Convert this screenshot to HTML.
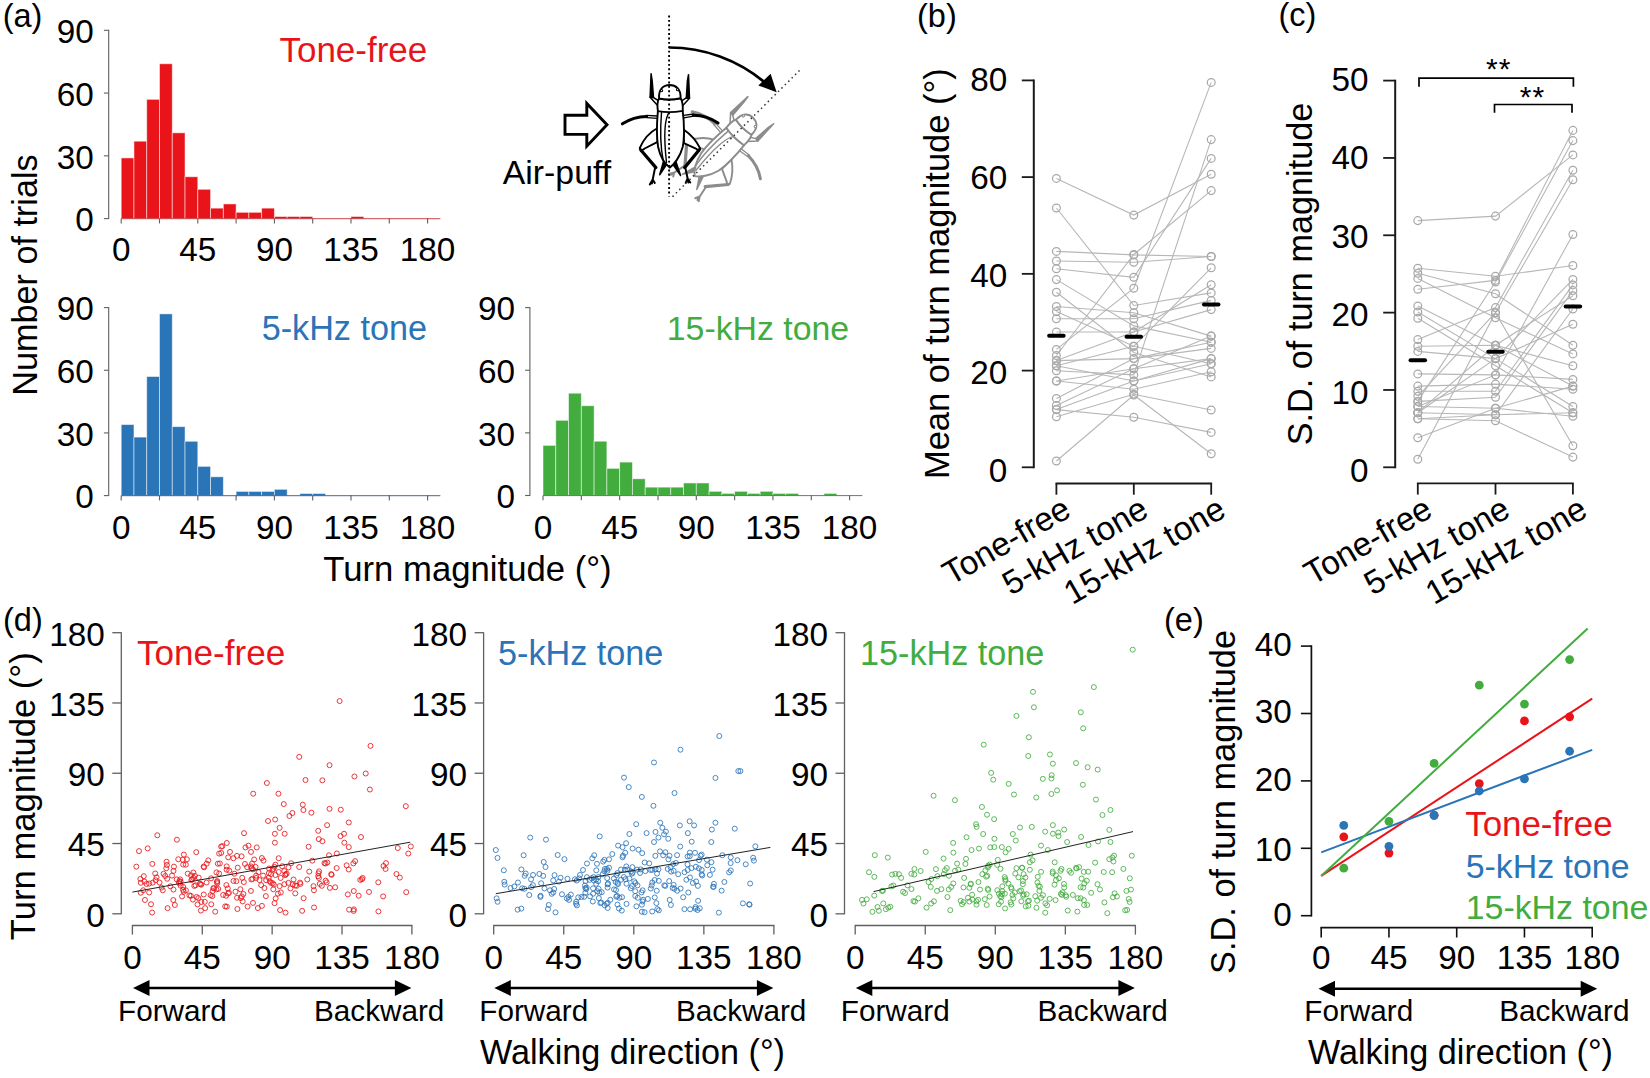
<!DOCTYPE html>
<html lang="en"><head><meta charset="utf-8"><title>Figure</title>
<style>html,body{margin:0;padding:0;background:#fff}svg{display:block}text{font-family:"Liberation Sans", sans-serif}</style></head>
<body>
<svg width="1650" height="1078" viewBox="0 0 1650 1078">
<rect width="1650" height="1078" fill="#fff"/>
<text x="2.7" y="26.5" font-size="32.5" text-anchor="start" fill="#000">(a)</text>
<line x1="108.7" y1="29.8" x2="108.7" y2="219.1" stroke="#606060" stroke-width="1.1"/>
<line x1="103.9" y1="218.6" x2="108.7" y2="218.6" stroke="#606060" stroke-width="1.1"/>
<text x="93.9" y="231.4" font-size="33.3" text-anchor="end" fill="#000">0</text>
<line x1="103.9" y1="155.83" x2="108.7" y2="155.83" stroke="#606060" stroke-width="1.1"/>
<text x="93.9" y="168.63" font-size="33.3" text-anchor="end" fill="#000">30</text>
<line x1="103.9" y1="93.07" x2="108.7" y2="93.07" stroke="#606060" stroke-width="1.1"/>
<text x="93.9" y="105.87" font-size="33.3" text-anchor="end" fill="#000">60</text>
<line x1="103.9" y1="30.3" x2="108.7" y2="30.3" stroke="#606060" stroke-width="1.1"/>
<text x="93.9" y="43.1" font-size="33.3" text-anchor="end" fill="#000">90</text>
<line x1="121.2" y1="218.6" x2="121.2" y2="223.4" stroke="#606060" stroke-width="1.1"/>
<line x1="159.5" y1="218.6" x2="159.5" y2="223.4" stroke="#606060" stroke-width="1.1"/>
<line x1="197.8" y1="218.6" x2="197.8" y2="223.4" stroke="#606060" stroke-width="1.1"/>
<line x1="236.1" y1="218.6" x2="236.1" y2="223.4" stroke="#606060" stroke-width="1.1"/>
<line x1="274.4" y1="218.6" x2="274.4" y2="223.4" stroke="#606060" stroke-width="1.1"/>
<line x1="312.7" y1="218.6" x2="312.7" y2="223.4" stroke="#606060" stroke-width="1.1"/>
<line x1="351" y1="218.6" x2="351" y2="223.4" stroke="#606060" stroke-width="1.1"/>
<line x1="389.3" y1="218.6" x2="389.3" y2="223.4" stroke="#606060" stroke-width="1.1"/>
<line x1="427.6" y1="218.6" x2="427.6" y2="223.4" stroke="#606060" stroke-width="1.1"/>
<text x="121.2" y="261.3" font-size="33.3" text-anchor="middle" fill="#000">0</text>
<text x="197.8" y="261.3" font-size="33.3" text-anchor="middle" fill="#000">45</text>
<text x="274.4" y="261.3" font-size="33.3" text-anchor="middle" fill="#000">90</text>
<text x="351" y="261.3" font-size="33.3" text-anchor="middle" fill="#000">135</text>
<text x="427.6" y="261.3" font-size="33.3" text-anchor="middle" fill="#000">180</text>
<rect x="121.2" y="157.93" width="12.77" height="60.67" fill="#e8141a" stroke="#fff" stroke-opacity="0.55" stroke-width="0.9"/>
<rect x="133.97" y="141.19" width="12.77" height="77.41" fill="#e8141a" stroke="#fff" stroke-opacity="0.55" stroke-width="0.9"/>
<rect x="146.73" y="99.34" width="12.77" height="119.26" fill="#e8141a" stroke="#fff" stroke-opacity="0.55" stroke-width="0.9"/>
<rect x="159.5" y="63.78" width="12.77" height="154.82" fill="#e8141a" stroke="#fff" stroke-opacity="0.55" stroke-width="0.9"/>
<rect x="172.27" y="132.82" width="12.77" height="85.78" fill="#e8141a" stroke="#fff" stroke-opacity="0.55" stroke-width="0.9"/>
<rect x="185.03" y="176.76" width="12.77" height="41.84" fill="#e8141a" stroke="#fff" stroke-opacity="0.55" stroke-width="0.9"/>
<rect x="197.8" y="189.31" width="12.77" height="29.29" fill="#e8141a" stroke="#fff" stroke-opacity="0.55" stroke-width="0.9"/>
<rect x="210.57" y="208.14" width="12.77" height="10.46" fill="#e8141a" stroke="#fff" stroke-opacity="0.55" stroke-width="0.9"/>
<rect x="223.33" y="203.95" width="12.77" height="14.65" fill="#e8141a" stroke="#fff" stroke-opacity="0.55" stroke-width="0.9"/>
<rect x="236.1" y="212.32" width="12.77" height="6.28" fill="#e8141a" stroke="#fff" stroke-opacity="0.55" stroke-width="0.9"/>
<rect x="248.87" y="212.32" width="12.77" height="6.28" fill="#e8141a" stroke="#fff" stroke-opacity="0.55" stroke-width="0.9"/>
<rect x="261.63" y="208.14" width="12.77" height="10.46" fill="#e8141a" stroke="#fff" stroke-opacity="0.55" stroke-width="0.9"/>
<rect x="274.4" y="216.51" width="12.77" height="2.09" fill="#e8141a" stroke="#fff" stroke-opacity="0.55" stroke-width="0.9"/>
<rect x="287.17" y="216.51" width="12.77" height="2.09" fill="#e8141a" stroke="#fff" stroke-opacity="0.55" stroke-width="0.9"/>
<rect x="299.93" y="216.51" width="12.77" height="2.09" fill="#e8141a" stroke="#fff" stroke-opacity="0.55" stroke-width="0.9"/>
<rect x="351" y="216.51" width="12.77" height="2.09" fill="#e8141a" stroke="#fff" stroke-opacity="0.55" stroke-width="0.9"/>
<line x1="121.2" y1="218.7" x2="440.37" y2="218.7" stroke="#b00c12" stroke-width="1" stroke-opacity="0.75"/>
<text x="427.3" y="62.1" font-size="35" text-anchor="end" fill="#e8141a">Tone-free</text>
<line x1="108.7" y1="307.1" x2="108.7" y2="496.1" stroke="#606060" stroke-width="1.1"/>
<line x1="103.9" y1="495.6" x2="108.7" y2="495.6" stroke="#606060" stroke-width="1.1"/>
<text x="93.9" y="508.4" font-size="33.3" text-anchor="end" fill="#000">0</text>
<line x1="103.9" y1="432.93" x2="108.7" y2="432.93" stroke="#606060" stroke-width="1.1"/>
<text x="93.9" y="445.73" font-size="33.3" text-anchor="end" fill="#000">30</text>
<line x1="103.9" y1="370.27" x2="108.7" y2="370.27" stroke="#606060" stroke-width="1.1"/>
<text x="93.9" y="383.07" font-size="33.3" text-anchor="end" fill="#000">60</text>
<line x1="103.9" y1="307.6" x2="108.7" y2="307.6" stroke="#606060" stroke-width="1.1"/>
<text x="93.9" y="320.4" font-size="33.3" text-anchor="end" fill="#000">90</text>
<line x1="121.2" y1="495.6" x2="121.2" y2="500.4" stroke="#606060" stroke-width="1.1"/>
<line x1="159.5" y1="495.6" x2="159.5" y2="500.4" stroke="#606060" stroke-width="1.1"/>
<line x1="197.8" y1="495.6" x2="197.8" y2="500.4" stroke="#606060" stroke-width="1.1"/>
<line x1="236.1" y1="495.6" x2="236.1" y2="500.4" stroke="#606060" stroke-width="1.1"/>
<line x1="274.4" y1="495.6" x2="274.4" y2="500.4" stroke="#606060" stroke-width="1.1"/>
<line x1="312.7" y1="495.6" x2="312.7" y2="500.4" stroke="#606060" stroke-width="1.1"/>
<line x1="351" y1="495.6" x2="351" y2="500.4" stroke="#606060" stroke-width="1.1"/>
<line x1="389.3" y1="495.6" x2="389.3" y2="500.4" stroke="#606060" stroke-width="1.1"/>
<line x1="427.6" y1="495.6" x2="427.6" y2="500.4" stroke="#606060" stroke-width="1.1"/>
<text x="121.2" y="538.5" font-size="33.3" text-anchor="middle" fill="#000">0</text>
<text x="197.8" y="538.5" font-size="33.3" text-anchor="middle" fill="#000">45</text>
<text x="274.4" y="538.5" font-size="33.3" text-anchor="middle" fill="#000">90</text>
<text x="351" y="538.5" font-size="33.3" text-anchor="middle" fill="#000">135</text>
<text x="427.6" y="538.5" font-size="33.3" text-anchor="middle" fill="#000">180</text>
<rect x="121.2" y="424.58" width="12.77" height="71.02" fill="#2a74b8" stroke="#fff" stroke-opacity="0.55" stroke-width="0.9"/>
<rect x="133.97" y="437.11" width="12.77" height="58.49" fill="#2a74b8" stroke="#fff" stroke-opacity="0.55" stroke-width="0.9"/>
<rect x="146.73" y="376.53" width="12.77" height="119.07" fill="#2a74b8" stroke="#fff" stroke-opacity="0.55" stroke-width="0.9"/>
<rect x="159.5" y="313.87" width="12.77" height="181.73" fill="#2a74b8" stroke="#fff" stroke-opacity="0.55" stroke-width="0.9"/>
<rect x="172.27" y="426.67" width="12.77" height="68.93" fill="#2a74b8" stroke="#fff" stroke-opacity="0.55" stroke-width="0.9"/>
<rect x="185.03" y="441.29" width="12.77" height="54.31" fill="#2a74b8" stroke="#fff" stroke-opacity="0.55" stroke-width="0.9"/>
<rect x="197.8" y="466.36" width="12.77" height="29.24" fill="#2a74b8" stroke="#fff" stroke-opacity="0.55" stroke-width="0.9"/>
<rect x="210.57" y="476.8" width="12.77" height="18.8" fill="#2a74b8" stroke="#fff" stroke-opacity="0.55" stroke-width="0.9"/>
<rect x="236.1" y="491.42" width="12.77" height="4.18" fill="#2a74b8" stroke="#fff" stroke-opacity="0.55" stroke-width="0.9"/>
<rect x="248.87" y="491.42" width="12.77" height="4.18" fill="#2a74b8" stroke="#fff" stroke-opacity="0.55" stroke-width="0.9"/>
<rect x="261.63" y="491.42" width="12.77" height="4.18" fill="#2a74b8" stroke="#fff" stroke-opacity="0.55" stroke-width="0.9"/>
<rect x="274.4" y="489.33" width="12.77" height="6.27" fill="#2a74b8" stroke="#fff" stroke-opacity="0.55" stroke-width="0.9"/>
<rect x="299.93" y="493.51" width="12.77" height="2.09" fill="#2a74b8" stroke="#fff" stroke-opacity="0.55" stroke-width="0.9"/>
<rect x="312.7" y="493.51" width="12.77" height="2.09" fill="#2a74b8" stroke="#fff" stroke-opacity="0.55" stroke-width="0.9"/>
<line x1="121.2" y1="495.7" x2="440.37" y2="495.7" stroke="#12345e" stroke-width="1" stroke-opacity="0.75"/>
<text x="427" y="340.4" font-size="34.2" text-anchor="end" fill="#2a74b8">5-kHz tone</text>
<line x1="529.9" y1="307.1" x2="529.9" y2="496" stroke="#606060" stroke-width="1.1"/>
<line x1="525.1" y1="495.5" x2="529.9" y2="495.5" stroke="#606060" stroke-width="1.1"/>
<text x="515.1" y="508.3" font-size="33.3" text-anchor="end" fill="#000">0</text>
<line x1="525.1" y1="432.87" x2="529.9" y2="432.87" stroke="#606060" stroke-width="1.1"/>
<text x="515.1" y="445.67" font-size="33.3" text-anchor="end" fill="#000">30</text>
<line x1="525.1" y1="370.23" x2="529.9" y2="370.23" stroke="#606060" stroke-width="1.1"/>
<text x="515.1" y="383.03" font-size="33.3" text-anchor="end" fill="#000">60</text>
<line x1="525.1" y1="307.6" x2="529.9" y2="307.6" stroke="#606060" stroke-width="1.1"/>
<text x="515.1" y="320.4" font-size="33.3" text-anchor="end" fill="#000">90</text>
<line x1="543" y1="495.5" x2="543" y2="500.3" stroke="#606060" stroke-width="1.1"/>
<line x1="581.33" y1="495.5" x2="581.33" y2="500.3" stroke="#606060" stroke-width="1.1"/>
<line x1="619.65" y1="495.5" x2="619.65" y2="500.3" stroke="#606060" stroke-width="1.1"/>
<line x1="657.98" y1="495.5" x2="657.98" y2="500.3" stroke="#606060" stroke-width="1.1"/>
<line x1="696.3" y1="495.5" x2="696.3" y2="500.3" stroke="#606060" stroke-width="1.1"/>
<line x1="734.62" y1="495.5" x2="734.62" y2="500.3" stroke="#606060" stroke-width="1.1"/>
<line x1="772.95" y1="495.5" x2="772.95" y2="500.3" stroke="#606060" stroke-width="1.1"/>
<line x1="811.28" y1="495.5" x2="811.28" y2="500.3" stroke="#606060" stroke-width="1.1"/>
<line x1="849.6" y1="495.5" x2="849.6" y2="500.3" stroke="#606060" stroke-width="1.1"/>
<text x="543" y="538.5" font-size="33.3" text-anchor="middle" fill="#000">0</text>
<text x="619.65" y="538.5" font-size="33.3" text-anchor="middle" fill="#000">45</text>
<text x="696.3" y="538.5" font-size="33.3" text-anchor="middle" fill="#000">90</text>
<text x="772.95" y="538.5" font-size="33.3" text-anchor="middle" fill="#000">135</text>
<text x="849.6" y="538.5" font-size="33.3" text-anchor="middle" fill="#000">180</text>
<rect x="543" y="445.39" width="12.78" height="50.11" fill="#42ac3e" stroke="#fff" stroke-opacity="0.55" stroke-width="0.9"/>
<rect x="555.77" y="420.34" width="12.78" height="75.16" fill="#42ac3e" stroke="#fff" stroke-opacity="0.55" stroke-width="0.9"/>
<rect x="568.55" y="393.2" width="12.78" height="102.3" fill="#42ac3e" stroke="#fff" stroke-opacity="0.55" stroke-width="0.9"/>
<rect x="581.33" y="405.73" width="12.78" height="89.77" fill="#42ac3e" stroke="#fff" stroke-opacity="0.55" stroke-width="0.9"/>
<rect x="594.1" y="441.22" width="12.78" height="54.28" fill="#42ac3e" stroke="#fff" stroke-opacity="0.55" stroke-width="0.9"/>
<rect x="606.88" y="468.36" width="12.78" height="27.14" fill="#42ac3e" stroke="#fff" stroke-opacity="0.55" stroke-width="0.9"/>
<rect x="619.65" y="462.1" width="12.78" height="33.4" fill="#42ac3e" stroke="#fff" stroke-opacity="0.55" stroke-width="0.9"/>
<rect x="632.42" y="478.8" width="12.78" height="16.7" fill="#42ac3e" stroke="#fff" stroke-opacity="0.55" stroke-width="0.9"/>
<rect x="645.2" y="487.15" width="12.78" height="8.35" fill="#42ac3e" stroke="#fff" stroke-opacity="0.55" stroke-width="0.9"/>
<rect x="657.98" y="487.15" width="12.78" height="8.35" fill="#42ac3e" stroke="#fff" stroke-opacity="0.55" stroke-width="0.9"/>
<rect x="670.75" y="487.15" width="12.78" height="8.35" fill="#42ac3e" stroke="#fff" stroke-opacity="0.55" stroke-width="0.9"/>
<rect x="683.52" y="482.97" width="12.78" height="12.53" fill="#42ac3e" stroke="#fff" stroke-opacity="0.55" stroke-width="0.9"/>
<rect x="696.3" y="482.97" width="12.78" height="12.53" fill="#42ac3e" stroke="#fff" stroke-opacity="0.55" stroke-width="0.9"/>
<rect x="709.08" y="491.32" width="12.78" height="4.18" fill="#42ac3e" stroke="#fff" stroke-opacity="0.55" stroke-width="0.9"/>
<rect x="721.85" y="493.41" width="12.78" height="2.09" fill="#42ac3e" stroke="#fff" stroke-opacity="0.55" stroke-width="0.9"/>
<rect x="734.62" y="491.32" width="12.78" height="4.18" fill="#42ac3e" stroke="#fff" stroke-opacity="0.55" stroke-width="0.9"/>
<rect x="747.4" y="493.41" width="12.78" height="2.09" fill="#42ac3e" stroke="#fff" stroke-opacity="0.55" stroke-width="0.9"/>
<rect x="760.17" y="491.32" width="12.78" height="4.18" fill="#42ac3e" stroke="#fff" stroke-opacity="0.55" stroke-width="0.9"/>
<rect x="772.95" y="493.41" width="12.78" height="2.09" fill="#42ac3e" stroke="#fff" stroke-opacity="0.55" stroke-width="0.9"/>
<rect x="785.73" y="493.41" width="12.78" height="2.09" fill="#42ac3e" stroke="#fff" stroke-opacity="0.55" stroke-width="0.9"/>
<rect x="824.05" y="493.41" width="12.78" height="2.09" fill="#42ac3e" stroke="#fff" stroke-opacity="0.55" stroke-width="0.9"/>
<line x1="543" y1="495.6" x2="862.38" y2="495.6" stroke="#22601f" stroke-width="1" stroke-opacity="0.75"/>
<text x="849.2" y="340.4" font-size="33.85" text-anchor="end" fill="#42ac3e">15-kHz tone</text>
<text x="36.6" y="275" font-size="34.2" text-anchor="middle" fill="#000" transform="rotate(-90 36.6 275)">Number of trials</text>
<text x="467.5" y="580.5" font-size="34.7" text-anchor="middle" fill="#000">Turn magnitude (°)</text>
<g transform="translate(723.5 146.5) rotate(45) translate(0 -41.25)" fill="none" stroke="#8c8c8c" stroke-width="1.9" stroke-linecap="round" stroke-linejoin="round" opacity="1">
<path d="M -11.5 43 C -19 47 -26 55 -29.4 63.2 L -28 66 L -24.4 63.5 L -11.5 56.8 Z" fill="#fff"/>
<path d="M -28.3 65 L -13.2 82.6" stroke-width="3.23"/>
<path d="M -14 82.6 L -17.2 98.5 M -16.4 94.5 L -19.3 99.5 M -16.4 94.5 L -14.3 98" stroke-width="1.99"/>
<path d="M 14.5 44.5 C 21 49 28 57 30.9 63.2 L 29.8 66 L 27.3 63.9 L 14.8 58.2 Z" fill="#fff"/>
<path d="M 30.2 64.8 L 15.5 82.6" stroke-width="3.23"/>
<path d="M 16.2 82.6 L 19.4 97.5 M 18.5 93.5 L 16.6 97.8 M 18.5 93.5 L 21.2 97.5" stroke-width="1.99"/>
<path d="M -11.5 31 L -23 30.3 M -11.5 33.4 L -22.5 32.6" stroke-width="1.33"/>
<path d="M -22.5 31.4 Q -35.5 31.5 -46.7 38.8" stroke-width="3.04"/>
<path d="M 14.5 30.4 L 24.5 29 M 14.7 32.8 L 24.5 31.2" stroke-width="1.33"/>
<path d="M 24.2 30.2 Q 38.5 30.5 48.9 38" stroke-width="3.04"/>
<path d="M -18 -11.2 L -19 12.2 L -15.6 12.6 L -16.9 -4 Z" fill="#8c8c8c" stroke-width="1.52"/>
<path d="M -19 12.2 L -11 21 L -10.8 15.5 L -15.6 12.6 Z" fill="#fff" stroke-width="1.52"/>
<path d="M 19.4 -10.3 L 20.4 13.2 L 17.2 12.9 L 18.3 -4 Z" fill="#8c8c8c" stroke-width="1.52"/>
<path d="M 20.4 13.2 L 12.8 21.5 L 12.4 15.8 L 17.2 12.9 Z" fill="#fff" stroke-width="1.52"/>
<path d="M -5.5 76 L -9.4 89.8 L -2.6 79.5 Z" fill="#8c8c8c" stroke-width="1.52"/>
<path d="M 6.6 76 L 11.5 90.5 L 4 79.5 Z" fill="#8c8c8c" stroke-width="1.52"/>
<path d="M -11.2 26 C -12.3 38 -12.3 54 -11 62 C -9 71 -4 79 0.6 82.6 C 5 79.5 11 72 13.6 62 C 15.3 54 15.3 38 13.6 26 Z" fill="#fff"/>
<path d="M -7.6 27.5 C -9 45 -8.4 63 -6 75" stroke-width="1.42"/>
<path d="M 0.3 27 C -4.4 33 -5.4 52 -2.6 77.5" stroke-width="1.42"/>
<path d="M -10.1 13.5 C -11.6 16 -11.8 22 -11.2 26.1 Q 0 28.3 13.6 25.9 C 13.9 21 13.3 16 11.5 13.2 Q 0 15.6 -10.1 13.5 Z" fill="#fff"/>
<path d="M -10.1 13.5 C -10.6 4 -5.5 0 0.4 0 C 6.5 0 11.8 3.5 11.5 13.2 Q 0 15.6 -10.1 13.5 Z" fill="#fff"/>
<circle cx="-7.6" cy="5.6" r="1.15" fill="#fff" stroke-width="1.04"/>
<circle cx="8.4" cy="4.6" r="1.15" fill="#fff" stroke-width="1.04"/>
</g>
<g transform="translate(669.1 85)" fill="none" stroke="#000" stroke-width="1.9" stroke-linecap="round" stroke-linejoin="round" opacity="1">
<path d="M -11.5 43 C -19 47 -26 55 -29.4 63.2 L -28 66 L -24.4 63.5 L -11.5 56.8 Z" fill="#fff"/>
<path d="M -28.3 65 L -13.2 82.6" stroke-width="3.23"/>
<path d="M -14 82.6 L -17.2 98.5 M -16.4 94.5 L -19.3 99.5 M -16.4 94.5 L -14.3 98" stroke-width="1.99"/>
<path d="M 14.5 44.5 C 21 49 28 57 30.9 63.2 L 29.8 66 L 27.3 63.9 L 14.8 58.2 Z" fill="#fff"/>
<path d="M 30.2 64.8 L 15.5 82.6" stroke-width="3.23"/>
<path d="M 16.2 82.6 L 19.4 97.5 M 18.5 93.5 L 16.6 97.8 M 18.5 93.5 L 21.2 97.5" stroke-width="1.99"/>
<path d="M -11.5 31 L -23 30.3 M -11.5 33.4 L -22.5 32.6" stroke-width="1.33"/>
<path d="M -22.5 31.4 Q -35.5 31.5 -46.7 38.8" stroke-width="3.04"/>
<path d="M 14.5 30.4 L 24.5 29 M 14.7 32.8 L 24.5 31.2" stroke-width="1.33"/>
<path d="M 24.2 30.2 Q 38.5 30.5 48.9 38" stroke-width="3.04"/>
<path d="M -18 -11.2 L -19 12.2 L -15.6 12.6 L -16.9 -4 Z" fill="#000" stroke-width="1.52"/>
<path d="M -19 12.2 L -11 21 L -10.8 15.5 L -15.6 12.6 Z" fill="#fff" stroke-width="1.52"/>
<path d="M 19.4 -10.3 L 20.4 13.2 L 17.2 12.9 L 18.3 -4 Z" fill="#000" stroke-width="1.52"/>
<path d="M 20.4 13.2 L 12.8 21.5 L 12.4 15.8 L 17.2 12.9 Z" fill="#fff" stroke-width="1.52"/>
<path d="M -5.5 76 L -9.4 89.8 L -2.6 79.5 Z" fill="#000" stroke-width="1.52"/>
<path d="M 6.6 76 L 11.5 90.5 L 4 79.5 Z" fill="#000" stroke-width="1.52"/>
<path d="M -11.2 26 C -12.3 38 -12.3 54 -11 62 C -9 71 -4 79 0.6 82.6 C 5 79.5 11 72 13.6 62 C 15.3 54 15.3 38 13.6 26 Z" fill="#fff"/>
<path d="M -7.6 27.5 C -9 45 -8.4 63 -6 75" stroke-width="1.42"/>
<path d="M 0.3 27 C -4.4 33 -5.4 52 -2.6 77.5" stroke-width="1.42"/>
<path d="M -10.1 13.5 C -11.6 16 -11.8 22 -11.2 26.1 Q 0 28.3 13.6 25.9 C 13.9 21 13.3 16 11.5 13.2 Q 0 15.6 -10.1 13.5 Z" fill="#fff"/>
<path d="M -10.1 13.5 C -10.6 4 -5.5 0 0.4 0 C 6.5 0 11.8 3.5 11.5 13.2 Q 0 15.6 -10.1 13.5 Z" fill="#fff"/>
<circle cx="-7.6" cy="5.6" r="1.15" fill="#fff" stroke-width="1.04"/>
<circle cx="8.4" cy="4.6" r="1.15" fill="#fff" stroke-width="1.04"/>
</g>
<line x1="669.1" y1="15.5" x2="669.1" y2="196.5" stroke="#000" stroke-width="1.9" stroke-dasharray="1.9 2.5"/>
<line x1="672.5" y1="196.7" x2="801.4" y2="68.6" stroke="#333" stroke-width="1.5" stroke-dasharray="1.5 3.3"/>
<path d="M 669.1 47.5 A 148.5 148.5 0 0 1 764.55 82.24" fill="none" stroke="#000" stroke-width="2.6"/>
<path d="M 776.64 92.15 L 758.37 85.46 L 770.6 73.66 Z" fill="#000"/>
<path d="M 565 115.3 L 586.8 115.3 L 586.8 103.5 L 607 124.8 L 586.8 146.2 L 586.8 134.4 L 565 134.4 Z" fill="#fff" stroke="#000" stroke-width="2.9" stroke-linejoin="miter"/>
<text x="502.8" y="183.8" font-size="33.8" text-anchor="start" fill="#000">Air-puff</text>
<text x="917" y="26.5" font-size="32.5" text-anchor="start" fill="#000">(b)</text>
<polyline points="1056.4,178.4 1133.8,215.1 1211.2,174.3" fill="none" stroke="#b7b7b7" stroke-width="1.1"/>
<polyline points="1056.4,208 1133.8,305.5 1211.2,292.9" fill="none" stroke="#b7b7b7" stroke-width="1.1"/>
<polyline points="1056.4,251.4 1133.8,254.9 1211.2,256.5" fill="none" stroke="#b7b7b7" stroke-width="1.1"/>
<polyline points="1056.4,261 1133.8,262.2 1211.2,256.5" fill="none" stroke="#b7b7b7" stroke-width="1.1"/>
<polyline points="1056.4,268.8 1133.8,277.3 1211.2,158.4" fill="none" stroke="#b7b7b7" stroke-width="1.1"/>
<polyline points="1056.4,279.6 1133.8,325.9 1211.2,342.2" fill="none" stroke="#b7b7b7" stroke-width="1.1"/>
<polyline points="1056.4,292.2 1133.8,352.4 1211.2,376.9" fill="none" stroke="#b7b7b7" stroke-width="1.1"/>
<polyline points="1056.4,306.5 1133.8,312.7 1211.2,336.1" fill="none" stroke="#b7b7b7" stroke-width="1.1"/>
<polyline points="1056.4,311.6 1133.8,346.3 1211.2,363.7" fill="none" stroke="#b7b7b7" stroke-width="1.1"/>
<polyline points="1056.4,318.8 1133.8,318.8 1211.2,300.4" fill="none" stroke="#b7b7b7" stroke-width="1.1"/>
<polyline points="1056.4,332 1133.8,332 1211.2,309.6" fill="none" stroke="#b7b7b7" stroke-width="1.1"/>
<polyline points="1056.4,349.4 1133.8,288.2 1211.2,82.4" fill="none" stroke="#b7b7b7" stroke-width="1.1"/>
<polyline points="1056.4,355.5 1133.8,254.5 1211.2,190.6" fill="none" stroke="#b7b7b7" stroke-width="1.1"/>
<polyline points="1056.4,360.6 1133.8,332 1211.2,284.7" fill="none" stroke="#b7b7b7" stroke-width="1.1"/>
<polyline points="1056.4,360.6 1133.8,358.6 1211.2,348.4" fill="none" stroke="#b7b7b7" stroke-width="1.1"/>
<polyline points="1056.4,365.7 1133.8,346.3 1211.2,267.8" fill="none" stroke="#b7b7b7" stroke-width="1.1"/>
<polyline points="1056.4,370.8 1133.8,374.9 1211.2,139.6" fill="none" stroke="#b7b7b7" stroke-width="1.1"/>
<polyline points="1056.4,381 1133.8,389.2 1211.2,371.8" fill="none" stroke="#b7b7b7" stroke-width="1.1"/>
<polyline points="1056.4,381 1133.8,368.8 1211.2,358.6" fill="none" stroke="#b7b7b7" stroke-width="1.1"/>
<polyline points="1056.4,398.4 1133.8,358.6 1211.2,342.2" fill="none" stroke="#b7b7b7" stroke-width="1.1"/>
<polyline points="1056.4,405.5 1133.8,368.8 1211.2,336.1" fill="none" stroke="#b7b7b7" stroke-width="1.1"/>
<polyline points="1056.4,409.6 1133.8,381 1211.2,358.6" fill="none" stroke="#b7b7b7" stroke-width="1.1"/>
<polyline points="1056.4,409.6 1133.8,417.3 1211.2,432.4" fill="none" stroke="#b7b7b7" stroke-width="1.1"/>
<polyline points="1056.4,416.7 1133.8,394.3 1211.2,410" fill="none" stroke="#b7b7b7" stroke-width="1.1"/>
<polyline points="1056.4,461 1133.8,395 1211.2,453.7" fill="none" stroke="#b7b7b7" stroke-width="1.1"/>
<polyline points="1056.4,365.7 1133.8,381 1211.2,363.7" fill="none" stroke="#b7b7b7" stroke-width="1.1"/>
<circle cx="1056.4" cy="178.4" r="3.9" fill="none" stroke="#a9a9a9" stroke-width="1.25"/>
<circle cx="1133.8" cy="215.1" r="3.9" fill="none" stroke="#a9a9a9" stroke-width="1.25"/>
<circle cx="1211.2" cy="174.3" r="3.9" fill="none" stroke="#a9a9a9" stroke-width="1.25"/>
<circle cx="1056.4" cy="208" r="3.9" fill="none" stroke="#a9a9a9" stroke-width="1.25"/>
<circle cx="1133.8" cy="305.5" r="3.9" fill="none" stroke="#a9a9a9" stroke-width="1.25"/>
<circle cx="1211.2" cy="292.9" r="3.9" fill="none" stroke="#a9a9a9" stroke-width="1.25"/>
<circle cx="1056.4" cy="251.4" r="3.9" fill="none" stroke="#a9a9a9" stroke-width="1.25"/>
<circle cx="1133.8" cy="254.9" r="3.9" fill="none" stroke="#a9a9a9" stroke-width="1.25"/>
<circle cx="1211.2" cy="256.5" r="3.9" fill="none" stroke="#a9a9a9" stroke-width="1.25"/>
<circle cx="1056.4" cy="261" r="3.9" fill="none" stroke="#a9a9a9" stroke-width="1.25"/>
<circle cx="1133.8" cy="262.2" r="3.9" fill="none" stroke="#a9a9a9" stroke-width="1.25"/>
<circle cx="1211.2" cy="256.5" r="3.9" fill="none" stroke="#a9a9a9" stroke-width="1.25"/>
<circle cx="1056.4" cy="268.8" r="3.9" fill="none" stroke="#a9a9a9" stroke-width="1.25"/>
<circle cx="1133.8" cy="277.3" r="3.9" fill="none" stroke="#a9a9a9" stroke-width="1.25"/>
<circle cx="1211.2" cy="158.4" r="3.9" fill="none" stroke="#a9a9a9" stroke-width="1.25"/>
<circle cx="1056.4" cy="279.6" r="3.9" fill="none" stroke="#a9a9a9" stroke-width="1.25"/>
<circle cx="1133.8" cy="325.9" r="3.9" fill="none" stroke="#a9a9a9" stroke-width="1.25"/>
<circle cx="1211.2" cy="342.2" r="3.9" fill="none" stroke="#a9a9a9" stroke-width="1.25"/>
<circle cx="1056.4" cy="292.2" r="3.9" fill="none" stroke="#a9a9a9" stroke-width="1.25"/>
<circle cx="1133.8" cy="352.4" r="3.9" fill="none" stroke="#a9a9a9" stroke-width="1.25"/>
<circle cx="1211.2" cy="376.9" r="3.9" fill="none" stroke="#a9a9a9" stroke-width="1.25"/>
<circle cx="1056.4" cy="306.5" r="3.9" fill="none" stroke="#a9a9a9" stroke-width="1.25"/>
<circle cx="1133.8" cy="312.7" r="3.9" fill="none" stroke="#a9a9a9" stroke-width="1.25"/>
<circle cx="1211.2" cy="336.1" r="3.9" fill="none" stroke="#a9a9a9" stroke-width="1.25"/>
<circle cx="1056.4" cy="311.6" r="3.9" fill="none" stroke="#a9a9a9" stroke-width="1.25"/>
<circle cx="1133.8" cy="346.3" r="3.9" fill="none" stroke="#a9a9a9" stroke-width="1.25"/>
<circle cx="1211.2" cy="363.7" r="3.9" fill="none" stroke="#a9a9a9" stroke-width="1.25"/>
<circle cx="1056.4" cy="318.8" r="3.9" fill="none" stroke="#a9a9a9" stroke-width="1.25"/>
<circle cx="1133.8" cy="318.8" r="3.9" fill="none" stroke="#a9a9a9" stroke-width="1.25"/>
<circle cx="1211.2" cy="300.4" r="3.9" fill="none" stroke="#a9a9a9" stroke-width="1.25"/>
<circle cx="1056.4" cy="332" r="3.9" fill="none" stroke="#a9a9a9" stroke-width="1.25"/>
<circle cx="1133.8" cy="332" r="3.9" fill="none" stroke="#a9a9a9" stroke-width="1.25"/>
<circle cx="1211.2" cy="309.6" r="3.9" fill="none" stroke="#a9a9a9" stroke-width="1.25"/>
<circle cx="1056.4" cy="349.4" r="3.9" fill="none" stroke="#a9a9a9" stroke-width="1.25"/>
<circle cx="1133.8" cy="288.2" r="3.9" fill="none" stroke="#a9a9a9" stroke-width="1.25"/>
<circle cx="1211.2" cy="82.4" r="3.9" fill="none" stroke="#a9a9a9" stroke-width="1.25"/>
<circle cx="1056.4" cy="355.5" r="3.9" fill="none" stroke="#a9a9a9" stroke-width="1.25"/>
<circle cx="1133.8" cy="254.5" r="3.9" fill="none" stroke="#a9a9a9" stroke-width="1.25"/>
<circle cx="1211.2" cy="190.6" r="3.9" fill="none" stroke="#a9a9a9" stroke-width="1.25"/>
<circle cx="1056.4" cy="360.6" r="3.9" fill="none" stroke="#a9a9a9" stroke-width="1.25"/>
<circle cx="1133.8" cy="332" r="3.9" fill="none" stroke="#a9a9a9" stroke-width="1.25"/>
<circle cx="1211.2" cy="284.7" r="3.9" fill="none" stroke="#a9a9a9" stroke-width="1.25"/>
<circle cx="1056.4" cy="360.6" r="3.9" fill="none" stroke="#a9a9a9" stroke-width="1.25"/>
<circle cx="1133.8" cy="358.6" r="3.9" fill="none" stroke="#a9a9a9" stroke-width="1.25"/>
<circle cx="1211.2" cy="348.4" r="3.9" fill="none" stroke="#a9a9a9" stroke-width="1.25"/>
<circle cx="1056.4" cy="365.7" r="3.9" fill="none" stroke="#a9a9a9" stroke-width="1.25"/>
<circle cx="1133.8" cy="346.3" r="3.9" fill="none" stroke="#a9a9a9" stroke-width="1.25"/>
<circle cx="1211.2" cy="267.8" r="3.9" fill="none" stroke="#a9a9a9" stroke-width="1.25"/>
<circle cx="1056.4" cy="370.8" r="3.9" fill="none" stroke="#a9a9a9" stroke-width="1.25"/>
<circle cx="1133.8" cy="374.9" r="3.9" fill="none" stroke="#a9a9a9" stroke-width="1.25"/>
<circle cx="1211.2" cy="139.6" r="3.9" fill="none" stroke="#a9a9a9" stroke-width="1.25"/>
<circle cx="1056.4" cy="381" r="3.9" fill="none" stroke="#a9a9a9" stroke-width="1.25"/>
<circle cx="1133.8" cy="389.2" r="3.9" fill="none" stroke="#a9a9a9" stroke-width="1.25"/>
<circle cx="1211.2" cy="371.8" r="3.9" fill="none" stroke="#a9a9a9" stroke-width="1.25"/>
<circle cx="1056.4" cy="381" r="3.9" fill="none" stroke="#a9a9a9" stroke-width="1.25"/>
<circle cx="1133.8" cy="368.8" r="3.9" fill="none" stroke="#a9a9a9" stroke-width="1.25"/>
<circle cx="1211.2" cy="358.6" r="3.9" fill="none" stroke="#a9a9a9" stroke-width="1.25"/>
<circle cx="1056.4" cy="398.4" r="3.9" fill="none" stroke="#a9a9a9" stroke-width="1.25"/>
<circle cx="1133.8" cy="358.6" r="3.9" fill="none" stroke="#a9a9a9" stroke-width="1.25"/>
<circle cx="1211.2" cy="342.2" r="3.9" fill="none" stroke="#a9a9a9" stroke-width="1.25"/>
<circle cx="1056.4" cy="405.5" r="3.9" fill="none" stroke="#a9a9a9" stroke-width="1.25"/>
<circle cx="1133.8" cy="368.8" r="3.9" fill="none" stroke="#a9a9a9" stroke-width="1.25"/>
<circle cx="1211.2" cy="336.1" r="3.9" fill="none" stroke="#a9a9a9" stroke-width="1.25"/>
<circle cx="1056.4" cy="409.6" r="3.9" fill="none" stroke="#a9a9a9" stroke-width="1.25"/>
<circle cx="1133.8" cy="381" r="3.9" fill="none" stroke="#a9a9a9" stroke-width="1.25"/>
<circle cx="1211.2" cy="358.6" r="3.9" fill="none" stroke="#a9a9a9" stroke-width="1.25"/>
<circle cx="1056.4" cy="409.6" r="3.9" fill="none" stroke="#a9a9a9" stroke-width="1.25"/>
<circle cx="1133.8" cy="417.3" r="3.9" fill="none" stroke="#a9a9a9" stroke-width="1.25"/>
<circle cx="1211.2" cy="432.4" r="3.9" fill="none" stroke="#a9a9a9" stroke-width="1.25"/>
<circle cx="1056.4" cy="416.7" r="3.9" fill="none" stroke="#a9a9a9" stroke-width="1.25"/>
<circle cx="1133.8" cy="394.3" r="3.9" fill="none" stroke="#a9a9a9" stroke-width="1.25"/>
<circle cx="1211.2" cy="410" r="3.9" fill="none" stroke="#a9a9a9" stroke-width="1.25"/>
<circle cx="1056.4" cy="461" r="3.9" fill="none" stroke="#a9a9a9" stroke-width="1.25"/>
<circle cx="1133.8" cy="395" r="3.9" fill="none" stroke="#a9a9a9" stroke-width="1.25"/>
<circle cx="1211.2" cy="453.7" r="3.9" fill="none" stroke="#a9a9a9" stroke-width="1.25"/>
<circle cx="1056.4" cy="365.7" r="3.9" fill="none" stroke="#a9a9a9" stroke-width="1.25"/>
<circle cx="1133.8" cy="381" r="3.9" fill="none" stroke="#a9a9a9" stroke-width="1.25"/>
<circle cx="1211.2" cy="363.7" r="3.9" fill="none" stroke="#a9a9a9" stroke-width="1.25"/>
<line x1="1049.1" y1="335.7" x2="1063.7" y2="335.7" stroke="#000" stroke-width="3.9" stroke-linecap="round"/>
<line x1="1126.5" y1="336.7" x2="1141.1" y2="336.7" stroke="#000" stroke-width="3.9" stroke-linecap="round"/>
<line x1="1203.9" y1="304.5" x2="1218.5" y2="304.5" stroke="#000" stroke-width="3.9" stroke-linecap="round"/>
<line x1="1033.8" y1="79.5" x2="1033.8" y2="468.2" stroke="#1a1a1a" stroke-width="2"/>
<line x1="1021.8" y1="80.4" x2="1033.8" y2="80.4" stroke="#1a1a1a" stroke-width="1.8"/>
<text x="1007.2" y="91" font-size="33.3" text-anchor="end" fill="#000">80</text>
<line x1="1021.8" y1="177.1" x2="1033.8" y2="177.1" stroke="#1a1a1a" stroke-width="1.8"/>
<text x="1007.2" y="188.76" font-size="33.3" text-anchor="end" fill="#000">60</text>
<line x1="1021.8" y1="273.85" x2="1033.8" y2="273.85" stroke="#1a1a1a" stroke-width="1.8"/>
<text x="1007.2" y="286.52" font-size="33.3" text-anchor="end" fill="#000">40</text>
<line x1="1021.8" y1="370.6" x2="1033.8" y2="370.6" stroke="#1a1a1a" stroke-width="1.8"/>
<text x="1007.2" y="384.29" font-size="33.3" text-anchor="end" fill="#000">20</text>
<line x1="1021.8" y1="467.3" x2="1033.8" y2="467.3" stroke="#1a1a1a" stroke-width="1.8"/>
<text x="1007.2" y="482.05" font-size="33.3" text-anchor="end" fill="#000">0</text>
<line x1="1055.5" y1="483.5" x2="1212.1" y2="483.5" stroke="#1a1a1a" stroke-width="1.8"/>
<line x1="1056.4" y1="483.5" x2="1056.4" y2="494.7" stroke="#1a1a1a" stroke-width="1.8"/>
<line x1="1133.8" y1="483.5" x2="1133.8" y2="494.7" stroke="#1a1a1a" stroke-width="1.8"/>
<line x1="1211.2" y1="483.5" x2="1211.2" y2="494.7" stroke="#1a1a1a" stroke-width="1.8"/>
<text x="1072.9" y="515.5" font-size="33.3" text-anchor="end" fill="#000" transform="rotate(-30 1072.9 515.5)">Tone-free</text>
<text x="1150.3" y="515.5" font-size="33.3" text-anchor="end" fill="#000" transform="rotate(-30 1150.3 515.5)">5-kHz tone</text>
<text x="1227.7" y="515.5" font-size="33.3" text-anchor="end" fill="#000" transform="rotate(-30 1227.7 515.5)">15-kHz tone</text>
<text x="949.2" y="273.6" font-size="34.52" text-anchor="middle" fill="#000" transform="rotate(-90 949.2 273.6)">Mean of turn magnitude (°)</text>
<text x="1278.5" y="26.3" font-size="32.5" text-anchor="start" fill="#000">(c)</text>
<polyline points="1417.8,220.6 1495.5,216.1 1572.9,154.9" fill="none" stroke="#b7b7b7" stroke-width="1.1"/>
<polyline points="1417.8,268.2 1495.5,276.3 1572.9,265.5" fill="none" stroke="#b7b7b7" stroke-width="1.1"/>
<polyline points="1417.8,273.3 1495.5,293.7 1572.9,345.3" fill="none" stroke="#b7b7b7" stroke-width="1.1"/>
<polyline points="1417.8,278.4 1495.5,317.8 1572.9,353.9" fill="none" stroke="#b7b7b7" stroke-width="1.1"/>
<polyline points="1417.8,289.2 1495.5,280.4 1572.9,130.4" fill="none" stroke="#b7b7b7" stroke-width="1.1"/>
<polyline points="1417.8,305.9 1495.5,345.3 1572.9,386.1" fill="none" stroke="#b7b7b7" stroke-width="1.1"/>
<polyline points="1417.8,312 1495.5,358.6 1572.9,406.5" fill="none" stroke="#b7b7b7" stroke-width="1.1"/>
<polyline points="1417.8,318.2 1495.5,365.7 1572.9,412.7" fill="none" stroke="#b7b7b7" stroke-width="1.1"/>
<polyline points="1417.8,339.6 1495.5,307.6 1572.9,170.2" fill="none" stroke="#b7b7b7" stroke-width="1.1"/>
<polyline points="1417.8,346.3 1495.5,345.3 1572.9,365.7" fill="none" stroke="#b7b7b7" stroke-width="1.1"/>
<polyline points="1417.8,351.4 1495.5,358.6 1572.9,324.3" fill="none" stroke="#b7b7b7" stroke-width="1.1"/>
<polyline points="1417.8,373.9 1495.5,374.9 1572.9,379.4" fill="none" stroke="#b7b7b7" stroke-width="1.1"/>
<polyline points="1417.8,386.1 1495.5,384.1 1572.9,389.2" fill="none" stroke="#b7b7b7" stroke-width="1.1"/>
<polyline points="1417.8,391.2 1495.5,391.2 1572.9,284.9" fill="none" stroke="#b7b7b7" stroke-width="1.1"/>
<polyline points="1417.8,396.3 1495.5,312.7 1572.9,179.8" fill="none" stroke="#b7b7b7" stroke-width="1.1"/>
<polyline points="1417.8,401.4 1495.5,397.3 1572.9,290.6" fill="none" stroke="#b7b7b7" stroke-width="1.1"/>
<polyline points="1417.8,406.5 1495.5,408.2 1572.9,416.3" fill="none" stroke="#b7b7b7" stroke-width="1.1"/>
<polyline points="1417.8,412.7 1495.5,358.6 1572.9,279.4" fill="none" stroke="#b7b7b7" stroke-width="1.1"/>
<polyline points="1417.8,412.7 1495.5,345.3 1572.9,295.7" fill="none" stroke="#b7b7b7" stroke-width="1.1"/>
<polyline points="1417.8,418.8 1495.5,414.7 1572.9,412.7" fill="none" stroke="#b7b7b7" stroke-width="1.1"/>
<polyline points="1417.8,418.8 1495.5,420.8 1572.9,457.1" fill="none" stroke="#b7b7b7" stroke-width="1.1"/>
<polyline points="1417.8,437.8 1495.5,408.2 1572.9,386.1" fill="none" stroke="#b7b7b7" stroke-width="1.1"/>
<polyline points="1417.8,459.2 1495.5,312.7 1572.9,445.7" fill="none" stroke="#b7b7b7" stroke-width="1.1"/>
<polyline points="1417.8,406.5 1495.5,374.9 1572.9,234.5" fill="none" stroke="#b7b7b7" stroke-width="1.1"/>
<polyline points="1417.8,401.4 1495.5,282 1572.9,140.6" fill="none" stroke="#b7b7b7" stroke-width="1.1"/>
<polyline points="1417.8,412.7 1495.5,414.7 1572.9,309" fill="none" stroke="#b7b7b7" stroke-width="1.1"/>
<circle cx="1417.8" cy="220.6" r="3.9" fill="none" stroke="#a9a9a9" stroke-width="1.25"/>
<circle cx="1495.5" cy="216.1" r="3.9" fill="none" stroke="#a9a9a9" stroke-width="1.25"/>
<circle cx="1572.9" cy="154.9" r="3.9" fill="none" stroke="#a9a9a9" stroke-width="1.25"/>
<circle cx="1417.8" cy="268.2" r="3.9" fill="none" stroke="#a9a9a9" stroke-width="1.25"/>
<circle cx="1495.5" cy="276.3" r="3.9" fill="none" stroke="#a9a9a9" stroke-width="1.25"/>
<circle cx="1572.9" cy="265.5" r="3.9" fill="none" stroke="#a9a9a9" stroke-width="1.25"/>
<circle cx="1417.8" cy="273.3" r="3.9" fill="none" stroke="#a9a9a9" stroke-width="1.25"/>
<circle cx="1495.5" cy="293.7" r="3.9" fill="none" stroke="#a9a9a9" stroke-width="1.25"/>
<circle cx="1572.9" cy="345.3" r="3.9" fill="none" stroke="#a9a9a9" stroke-width="1.25"/>
<circle cx="1417.8" cy="278.4" r="3.9" fill="none" stroke="#a9a9a9" stroke-width="1.25"/>
<circle cx="1495.5" cy="317.8" r="3.9" fill="none" stroke="#a9a9a9" stroke-width="1.25"/>
<circle cx="1572.9" cy="353.9" r="3.9" fill="none" stroke="#a9a9a9" stroke-width="1.25"/>
<circle cx="1417.8" cy="289.2" r="3.9" fill="none" stroke="#a9a9a9" stroke-width="1.25"/>
<circle cx="1495.5" cy="280.4" r="3.9" fill="none" stroke="#a9a9a9" stroke-width="1.25"/>
<circle cx="1572.9" cy="130.4" r="3.9" fill="none" stroke="#a9a9a9" stroke-width="1.25"/>
<circle cx="1417.8" cy="305.9" r="3.9" fill="none" stroke="#a9a9a9" stroke-width="1.25"/>
<circle cx="1495.5" cy="345.3" r="3.9" fill="none" stroke="#a9a9a9" stroke-width="1.25"/>
<circle cx="1572.9" cy="386.1" r="3.9" fill="none" stroke="#a9a9a9" stroke-width="1.25"/>
<circle cx="1417.8" cy="312" r="3.9" fill="none" stroke="#a9a9a9" stroke-width="1.25"/>
<circle cx="1495.5" cy="358.6" r="3.9" fill="none" stroke="#a9a9a9" stroke-width="1.25"/>
<circle cx="1572.9" cy="406.5" r="3.9" fill="none" stroke="#a9a9a9" stroke-width="1.25"/>
<circle cx="1417.8" cy="318.2" r="3.9" fill="none" stroke="#a9a9a9" stroke-width="1.25"/>
<circle cx="1495.5" cy="365.7" r="3.9" fill="none" stroke="#a9a9a9" stroke-width="1.25"/>
<circle cx="1572.9" cy="412.7" r="3.9" fill="none" stroke="#a9a9a9" stroke-width="1.25"/>
<circle cx="1417.8" cy="339.6" r="3.9" fill="none" stroke="#a9a9a9" stroke-width="1.25"/>
<circle cx="1495.5" cy="307.6" r="3.9" fill="none" stroke="#a9a9a9" stroke-width="1.25"/>
<circle cx="1572.9" cy="170.2" r="3.9" fill="none" stroke="#a9a9a9" stroke-width="1.25"/>
<circle cx="1417.8" cy="346.3" r="3.9" fill="none" stroke="#a9a9a9" stroke-width="1.25"/>
<circle cx="1495.5" cy="345.3" r="3.9" fill="none" stroke="#a9a9a9" stroke-width="1.25"/>
<circle cx="1572.9" cy="365.7" r="3.9" fill="none" stroke="#a9a9a9" stroke-width="1.25"/>
<circle cx="1417.8" cy="351.4" r="3.9" fill="none" stroke="#a9a9a9" stroke-width="1.25"/>
<circle cx="1495.5" cy="358.6" r="3.9" fill="none" stroke="#a9a9a9" stroke-width="1.25"/>
<circle cx="1572.9" cy="324.3" r="3.9" fill="none" stroke="#a9a9a9" stroke-width="1.25"/>
<circle cx="1417.8" cy="373.9" r="3.9" fill="none" stroke="#a9a9a9" stroke-width="1.25"/>
<circle cx="1495.5" cy="374.9" r="3.9" fill="none" stroke="#a9a9a9" stroke-width="1.25"/>
<circle cx="1572.9" cy="379.4" r="3.9" fill="none" stroke="#a9a9a9" stroke-width="1.25"/>
<circle cx="1417.8" cy="386.1" r="3.9" fill="none" stroke="#a9a9a9" stroke-width="1.25"/>
<circle cx="1495.5" cy="384.1" r="3.9" fill="none" stroke="#a9a9a9" stroke-width="1.25"/>
<circle cx="1572.9" cy="389.2" r="3.9" fill="none" stroke="#a9a9a9" stroke-width="1.25"/>
<circle cx="1417.8" cy="391.2" r="3.9" fill="none" stroke="#a9a9a9" stroke-width="1.25"/>
<circle cx="1495.5" cy="391.2" r="3.9" fill="none" stroke="#a9a9a9" stroke-width="1.25"/>
<circle cx="1572.9" cy="284.9" r="3.9" fill="none" stroke="#a9a9a9" stroke-width="1.25"/>
<circle cx="1417.8" cy="396.3" r="3.9" fill="none" stroke="#a9a9a9" stroke-width="1.25"/>
<circle cx="1495.5" cy="312.7" r="3.9" fill="none" stroke="#a9a9a9" stroke-width="1.25"/>
<circle cx="1572.9" cy="179.8" r="3.9" fill="none" stroke="#a9a9a9" stroke-width="1.25"/>
<circle cx="1417.8" cy="401.4" r="3.9" fill="none" stroke="#a9a9a9" stroke-width="1.25"/>
<circle cx="1495.5" cy="397.3" r="3.9" fill="none" stroke="#a9a9a9" stroke-width="1.25"/>
<circle cx="1572.9" cy="290.6" r="3.9" fill="none" stroke="#a9a9a9" stroke-width="1.25"/>
<circle cx="1417.8" cy="406.5" r="3.9" fill="none" stroke="#a9a9a9" stroke-width="1.25"/>
<circle cx="1495.5" cy="408.2" r="3.9" fill="none" stroke="#a9a9a9" stroke-width="1.25"/>
<circle cx="1572.9" cy="416.3" r="3.9" fill="none" stroke="#a9a9a9" stroke-width="1.25"/>
<circle cx="1417.8" cy="412.7" r="3.9" fill="none" stroke="#a9a9a9" stroke-width="1.25"/>
<circle cx="1495.5" cy="358.6" r="3.9" fill="none" stroke="#a9a9a9" stroke-width="1.25"/>
<circle cx="1572.9" cy="279.4" r="3.9" fill="none" stroke="#a9a9a9" stroke-width="1.25"/>
<circle cx="1417.8" cy="412.7" r="3.9" fill="none" stroke="#a9a9a9" stroke-width="1.25"/>
<circle cx="1495.5" cy="345.3" r="3.9" fill="none" stroke="#a9a9a9" stroke-width="1.25"/>
<circle cx="1572.9" cy="295.7" r="3.9" fill="none" stroke="#a9a9a9" stroke-width="1.25"/>
<circle cx="1417.8" cy="418.8" r="3.9" fill="none" stroke="#a9a9a9" stroke-width="1.25"/>
<circle cx="1495.5" cy="414.7" r="3.9" fill="none" stroke="#a9a9a9" stroke-width="1.25"/>
<circle cx="1572.9" cy="412.7" r="3.9" fill="none" stroke="#a9a9a9" stroke-width="1.25"/>
<circle cx="1417.8" cy="418.8" r="3.9" fill="none" stroke="#a9a9a9" stroke-width="1.25"/>
<circle cx="1495.5" cy="420.8" r="3.9" fill="none" stroke="#a9a9a9" stroke-width="1.25"/>
<circle cx="1572.9" cy="457.1" r="3.9" fill="none" stroke="#a9a9a9" stroke-width="1.25"/>
<circle cx="1417.8" cy="437.8" r="3.9" fill="none" stroke="#a9a9a9" stroke-width="1.25"/>
<circle cx="1495.5" cy="408.2" r="3.9" fill="none" stroke="#a9a9a9" stroke-width="1.25"/>
<circle cx="1572.9" cy="386.1" r="3.9" fill="none" stroke="#a9a9a9" stroke-width="1.25"/>
<circle cx="1417.8" cy="459.2" r="3.9" fill="none" stroke="#a9a9a9" stroke-width="1.25"/>
<circle cx="1495.5" cy="312.7" r="3.9" fill="none" stroke="#a9a9a9" stroke-width="1.25"/>
<circle cx="1572.9" cy="445.7" r="3.9" fill="none" stroke="#a9a9a9" stroke-width="1.25"/>
<circle cx="1417.8" cy="406.5" r="3.9" fill="none" stroke="#a9a9a9" stroke-width="1.25"/>
<circle cx="1495.5" cy="374.9" r="3.9" fill="none" stroke="#a9a9a9" stroke-width="1.25"/>
<circle cx="1572.9" cy="234.5" r="3.9" fill="none" stroke="#a9a9a9" stroke-width="1.25"/>
<circle cx="1417.8" cy="401.4" r="3.9" fill="none" stroke="#a9a9a9" stroke-width="1.25"/>
<circle cx="1495.5" cy="282" r="3.9" fill="none" stroke="#a9a9a9" stroke-width="1.25"/>
<circle cx="1572.9" cy="140.6" r="3.9" fill="none" stroke="#a9a9a9" stroke-width="1.25"/>
<circle cx="1417.8" cy="412.7" r="3.9" fill="none" stroke="#a9a9a9" stroke-width="1.25"/>
<circle cx="1495.5" cy="414.7" r="3.9" fill="none" stroke="#a9a9a9" stroke-width="1.25"/>
<circle cx="1572.9" cy="309" r="3.9" fill="none" stroke="#a9a9a9" stroke-width="1.25"/>
<line x1="1410.5" y1="360.2" x2="1425.1" y2="360.2" stroke="#000" stroke-width="3.9" stroke-linecap="round"/>
<line x1="1488.2" y1="351.8" x2="1502.8" y2="351.8" stroke="#000" stroke-width="3.9" stroke-linecap="round"/>
<line x1="1565.6" y1="306.5" x2="1580.2" y2="306.5" stroke="#000" stroke-width="3.9" stroke-linecap="round"/>
<line x1="1395.2" y1="79.7" x2="1395.2" y2="468.2" stroke="#1a1a1a" stroke-width="2"/>
<line x1="1383.2" y1="80.6" x2="1395.2" y2="80.6" stroke="#1a1a1a" stroke-width="1.8"/>
<text x="1368.6" y="91.15" font-size="33.3" text-anchor="end" fill="#000">50</text>
<line x1="1383.2" y1="157.94" x2="1395.2" y2="157.94" stroke="#1a1a1a" stroke-width="1.8"/>
<text x="1368.6" y="169.33" font-size="33.3" text-anchor="end" fill="#000">40</text>
<line x1="1383.2" y1="235.28" x2="1395.2" y2="235.28" stroke="#1a1a1a" stroke-width="1.8"/>
<text x="1368.6" y="247.51" font-size="33.3" text-anchor="end" fill="#000">30</text>
<line x1="1383.2" y1="312.62" x2="1395.2" y2="312.62" stroke="#1a1a1a" stroke-width="1.8"/>
<text x="1368.6" y="325.69" font-size="33.3" text-anchor="end" fill="#000">20</text>
<line x1="1383.2" y1="389.96" x2="1395.2" y2="389.96" stroke="#1a1a1a" stroke-width="1.8"/>
<text x="1368.6" y="403.87" font-size="33.3" text-anchor="end" fill="#000">10</text>
<line x1="1383.2" y1="467.3" x2="1395.2" y2="467.3" stroke="#1a1a1a" stroke-width="1.8"/>
<text x="1368.6" y="482.05" font-size="33.3" text-anchor="end" fill="#000">0</text>
<line x1="1416.9" y1="483.4" x2="1573.8" y2="483.4" stroke="#1a1a1a" stroke-width="1.8"/>
<line x1="1417.8" y1="483.4" x2="1417.8" y2="494.6" stroke="#1a1a1a" stroke-width="1.8"/>
<line x1="1495.5" y1="483.4" x2="1495.5" y2="494.6" stroke="#1a1a1a" stroke-width="1.8"/>
<line x1="1572.9" y1="483.4" x2="1572.9" y2="494.6" stroke="#1a1a1a" stroke-width="1.8"/>
<text x="1434.3" y="515.4" font-size="33.3" text-anchor="end" fill="#000" transform="rotate(-30 1434.3 515.4)">Tone-free</text>
<text x="1512" y="515.4" font-size="33.3" text-anchor="end" fill="#000" transform="rotate(-30 1512 515.4)">5-kHz tone</text>
<text x="1589.4" y="515.4" font-size="33.3" text-anchor="end" fill="#000" transform="rotate(-30 1589.4 515.4)">15-kHz tone</text>
<text x="1311.5" y="274" font-size="34.24" text-anchor="middle" fill="#000" transform="rotate(-90 1311.5 274)">S.D. of turn magnitude</text>
<path d="M 1419 86.7 L 1419 78.1 L 1573.4 78.1 L 1573.4 86.7" fill="none" stroke="#000" stroke-width="1.7"/>
<path d="M 1494.5 112.8 L 1494.5 104.5 L 1572 104.5 L 1572 112.8" fill="none" stroke="#000" stroke-width="1.7"/>
<text x="1498.8" y="79.2" font-size="30" text-anchor="middle" fill="#000" letter-spacing="1.2">**</text>
<text x="1532.5" y="106.5" font-size="30" text-anchor="middle" fill="#000" letter-spacing="1.2">**</text>
<text x="3" y="631" font-size="32.5" text-anchor="start" fill="#000">(d)</text>
<g fill="none" stroke="#e8141a" stroke-width="0.85">
<circle cx="339.61" cy="701.06" r="2.5"/>
<circle cx="370.49" cy="745.89" r="2.5"/>
<circle cx="299.23" cy="756.88" r="2.5"/>
<circle cx="329.51" cy="765.19" r="2.5"/>
<circle cx="365.74" cy="773.5" r="2.5"/>
<circle cx="354.45" cy="776.47" r="2.5"/>
<circle cx="322.39" cy="780.33" r="2.5"/>
<circle cx="305.46" cy="780.04" r="2.5"/>
<circle cx="266.86" cy="783" r="2.5"/>
<circle cx="369.89" cy="789.54" r="2.5"/>
<circle cx="253.21" cy="793.69" r="2.5"/>
<circle cx="278.44" cy="793.69" r="2.5"/>
<circle cx="283.79" cy="804.09" r="2.5"/>
<circle cx="302.79" cy="804.68" r="2.5"/>
<circle cx="405.82" cy="806.16" r="2.5"/>
<circle cx="303.38" cy="810.02" r="2.5"/>
<circle cx="311.4" cy="812.7" r="2.5"/>
<circle cx="329.51" cy="808.84" r="2.5"/>
<circle cx="340.8" cy="809.73" r="2.5"/>
<circle cx="292.4" cy="812.99" r="2.5"/>
<circle cx="289.43" cy="815.96" r="2.5"/>
<circle cx="275.18" cy="819.52" r="2.5"/>
<circle cx="268.05" cy="821.01" r="2.5"/>
<circle cx="348.81" cy="822.49" r="2.5"/>
<circle cx="327.14" cy="825.17" r="2.5"/>
<circle cx="279.63" cy="827.84" r="2.5"/>
<circle cx="318.23" cy="830.81" r="2.5"/>
<circle cx="244" cy="833.18" r="2.5"/>
<circle cx="274.88" cy="833.78" r="2.5"/>
<circle cx="284.68" cy="833.78" r="2.5"/>
<circle cx="157.3" cy="835.26" r="2.5"/>
<circle cx="344.06" cy="833.78" r="2.5"/>
<circle cx="340.5" cy="836.15" r="2.5"/>
<circle cx="360.99" cy="837.04" r="2.5"/>
<circle cx="176.9" cy="839.71" r="2.5"/>
<circle cx="318.82" cy="839.12" r="2.5"/>
<circle cx="322.39" cy="841.2" r="2.5"/>
<circle cx="226.78" cy="842.98" r="2.5"/>
<circle cx="274.88" cy="842.68" r="2.5"/>
<circle cx="344.36" cy="842.68" r="2.5"/>
<circle cx="221.14" cy="846.54" r="2.5"/>
<circle cx="348.81" cy="847.14" r="2.5"/>
<circle cx="245.49" cy="847.43" r="2.5"/>
<circle cx="248.46" cy="845.65" r="2.5"/>
<circle cx="256.77" cy="847.43" r="2.5"/>
<circle cx="397.8" cy="848.03" r="2.5"/>
<circle cx="187.79" cy="873.6" r="2.5"/>
<circle cx="167.59" cy="908.15" r="2.5"/>
<circle cx="358.7" cy="895.72" r="2.5"/>
<circle cx="163.52" cy="873.84" r="2.5"/>
<circle cx="280.08" cy="910.03" r="2.5"/>
<circle cx="140.81" cy="882.81" r="2.5"/>
<circle cx="192.26" cy="879.22" r="2.5"/>
<circle cx="183.83" cy="854.59" r="2.5"/>
<circle cx="196.59" cy="896.97" r="2.5"/>
<circle cx="369.02" cy="891.92" r="2.5"/>
<circle cx="228.98" cy="892.74" r="2.5"/>
<circle cx="149.14" cy="892.5" r="2.5"/>
<circle cx="254.15" cy="859.46" r="2.5"/>
<circle cx="272.81" cy="883.23" r="2.5"/>
<circle cx="268.65" cy="877.76" r="2.5"/>
<circle cx="360.25" cy="879.94" r="2.5"/>
<circle cx="215.22" cy="911.68" r="2.5"/>
<circle cx="325.53" cy="863.49" r="2.5"/>
<circle cx="290.49" cy="888.46" r="2.5"/>
<circle cx="216.36" cy="889.36" r="2.5"/>
<circle cx="274.35" cy="866.85" r="2.5"/>
<circle cx="143.22" cy="890.23" r="2.5"/>
<circle cx="362.63" cy="877.98" r="2.5"/>
<circle cx="353.85" cy="909.39" r="2.5"/>
<circle cx="275.5" cy="875.01" r="2.5"/>
<circle cx="235.48" cy="891.71" r="2.5"/>
<circle cx="173.47" cy="870.89" r="2.5"/>
<circle cx="240.75" cy="898.11" r="2.5"/>
<circle cx="242.67" cy="901.37" r="2.5"/>
<circle cx="226.12" cy="895.75" r="2.5"/>
<circle cx="185.85" cy="864.65" r="2.5"/>
<circle cx="353.35" cy="863.41" r="2.5"/>
<circle cx="295.26" cy="893.37" r="2.5"/>
<circle cx="206.75" cy="863.62" r="2.5"/>
<circle cx="182.08" cy="896.4" r="2.5"/>
<circle cx="300.46" cy="883.96" r="2.5"/>
<circle cx="204.07" cy="867.33" r="2.5"/>
<circle cx="385.55" cy="868.99" r="2.5"/>
<circle cx="318.52" cy="873.32" r="2.5"/>
<circle cx="269.75" cy="881.23" r="2.5"/>
<circle cx="196.24" cy="852.16" r="2.5"/>
<circle cx="226.39" cy="885.08" r="2.5"/>
<circle cx="307.29" cy="879.49" r="2.5"/>
<circle cx="263.46" cy="860.59" r="2.5"/>
<circle cx="353.63" cy="910.93" r="2.5"/>
<circle cx="329.91" cy="887.88" r="2.5"/>
<circle cx="247.15" cy="867.17" r="2.5"/>
<circle cx="309.25" cy="871.62" r="2.5"/>
<circle cx="264.38" cy="888.04" r="2.5"/>
<circle cx="327.3" cy="862.52" r="2.5"/>
<circle cx="353.75" cy="891.06" r="2.5"/>
<circle cx="211.08" cy="878.31" r="2.5"/>
<circle cx="182.81" cy="859.7" r="2.5"/>
<circle cx="279.65" cy="886.11" r="2.5"/>
<circle cx="166.54" cy="861.75" r="2.5"/>
<circle cx="261.92" cy="905.88" r="2.5"/>
<circle cx="193.31" cy="877.88" r="2.5"/>
<circle cx="318.91" cy="877.98" r="2.5"/>
<circle cx="173.95" cy="866.61" r="2.5"/>
<circle cx="268.87" cy="873.14" r="2.5"/>
<circle cx="194.29" cy="885.91" r="2.5"/>
<circle cx="217.27" cy="881.04" r="2.5"/>
<circle cx="258.49" cy="872.2" r="2.5"/>
<circle cx="282.19" cy="866.21" r="2.5"/>
<circle cx="331.23" cy="874.13" r="2.5"/>
<circle cx="151" cy="904.26" r="2.5"/>
<circle cx="399.84" cy="877.59" r="2.5"/>
<circle cx="185.91" cy="890.35" r="2.5"/>
<circle cx="236.33" cy="881.16" r="2.5"/>
<circle cx="336.68" cy="868.1" r="2.5"/>
<circle cx="280.63" cy="877.98" r="2.5"/>
<circle cx="250.95" cy="866.38" r="2.5"/>
<circle cx="261.88" cy="858.07" r="2.5"/>
<circle cx="213.31" cy="888.16" r="2.5"/>
<circle cx="273.82" cy="884.64" r="2.5"/>
<circle cx="159.52" cy="882.5" r="2.5"/>
<circle cx="244.98" cy="863.95" r="2.5"/>
<circle cx="278.68" cy="872.04" r="2.5"/>
<circle cx="152.12" cy="912.56" r="2.5"/>
<circle cx="273.34" cy="868.91" r="2.5"/>
<circle cx="189.39" cy="895.42" r="2.5"/>
<circle cx="144.5" cy="881.59" r="2.5"/>
<circle cx="252.98" cy="902.88" r="2.5"/>
<circle cx="256.09" cy="877.94" r="2.5"/>
<circle cx="275.66" cy="898.39" r="2.5"/>
<circle cx="299.99" cy="882.58" r="2.5"/>
<circle cx="136.34" cy="866.63" r="2.5"/>
<circle cx="275.39" cy="864.61" r="2.5"/>
<circle cx="396.44" cy="874.02" r="2.5"/>
<circle cx="252.49" cy="878.83" r="2.5"/>
<circle cx="204.81" cy="901.83" r="2.5"/>
<circle cx="146.52" cy="883.97" r="2.5"/>
<circle cx="237.4" cy="909.02" r="2.5"/>
<circle cx="172" cy="875.59" r="2.5"/>
<circle cx="212.33" cy="896.07" r="2.5"/>
<circle cx="348.72" cy="869.49" r="2.5"/>
<circle cx="265.84" cy="896.12" r="2.5"/>
<circle cx="161.52" cy="887.59" r="2.5"/>
<circle cx="219.85" cy="863.44" r="2.5"/>
<circle cx="200.88" cy="910.58" r="2.5"/>
<circle cx="144.96" cy="899.98" r="2.5"/>
<circle cx="303.64" cy="898.19" r="2.5"/>
<circle cx="278.68" cy="858.24" r="2.5"/>
<circle cx="251.69" cy="868.4" r="2.5"/>
<circle cx="197.52" cy="904.43" r="2.5"/>
<circle cx="256.18" cy="875.64" r="2.5"/>
<circle cx="241.57" cy="856.32" r="2.5"/>
<circle cx="313.95" cy="890.23" r="2.5"/>
<circle cx="206.57" cy="882.5" r="2.5"/>
<circle cx="166.91" cy="864.96" r="2.5"/>
<circle cx="406.23" cy="892.2" r="2.5"/>
<circle cx="203.76" cy="894.51" r="2.5"/>
<circle cx="156.56" cy="877.38" r="2.5"/>
<circle cx="266.16" cy="880.17" r="2.5"/>
<circle cx="255.59" cy="866.95" r="2.5"/>
<circle cx="251.01" cy="851.95" r="2.5"/>
<circle cx="243.79" cy="882.08" r="2.5"/>
<circle cx="280.79" cy="892.49" r="2.5"/>
<circle cx="155.6" cy="880.22" r="2.5"/>
<circle cx="349.15" cy="909.65" r="2.5"/>
<circle cx="205.16" cy="908.15" r="2.5"/>
<circle cx="216.93" cy="882.03" r="2.5"/>
<circle cx="165.21" cy="875.97" r="2.5"/>
<circle cx="191.36" cy="880.08" r="2.5"/>
<circle cx="233.49" cy="880.96" r="2.5"/>
<circle cx="186.89" cy="859.29" r="2.5"/>
<circle cx="201.39" cy="901.99" r="2.5"/>
<circle cx="219.13" cy="873.56" r="2.5"/>
<circle cx="155.23" cy="873.46" r="2.5"/>
<circle cx="208.29" cy="860.42" r="2.5"/>
<circle cx="199.87" cy="883.7" r="2.5"/>
<circle cx="166.28" cy="868.29" r="2.5"/>
<circle cx="234.39" cy="873.71" r="2.5"/>
<circle cx="183.19" cy="864.55" r="2.5"/>
<circle cx="179.26" cy="881.28" r="2.5"/>
<circle cx="257.85" cy="908.07" r="2.5"/>
<circle cx="313.51" cy="886.15" r="2.5"/>
<circle cx="162.77" cy="890.27" r="2.5"/>
<circle cx="173.48" cy="889.55" r="2.5"/>
<circle cx="180.62" cy="885.68" r="2.5"/>
<circle cx="191.11" cy="875.32" r="2.5"/>
<circle cx="237.05" cy="897.73" r="2.5"/>
<circle cx="183.29" cy="887.04" r="2.5"/>
<circle cx="274.54" cy="903.18" r="2.5"/>
<circle cx="355.1" cy="861.15" r="2.5"/>
<circle cx="222.34" cy="846.13" r="2.5"/>
<circle cx="273.31" cy="889.28" r="2.5"/>
<circle cx="361.99" cy="879.24" r="2.5"/>
<circle cx="229.98" cy="851.89" r="2.5"/>
<circle cx="201.26" cy="884.71" r="2.5"/>
<circle cx="217.84" cy="863.71" r="2.5"/>
<circle cx="226.81" cy="906.65" r="2.5"/>
<circle cx="328.98" cy="855.3" r="2.5"/>
<circle cx="211.27" cy="904.27" r="2.5"/>
<circle cx="251.39" cy="879.49" r="2.5"/>
<circle cx="226.7" cy="866.37" r="2.5"/>
<circle cx="336.84" cy="853.46" r="2.5"/>
<circle cx="302.15" cy="910.84" r="2.5"/>
<circle cx="321.82" cy="885.81" r="2.5"/>
<circle cx="212.62" cy="891.12" r="2.5"/>
<circle cx="152.71" cy="882.67" r="2.5"/>
<circle cx="219.15" cy="853.59" r="2.5"/>
<circle cx="247.59" cy="906.54" r="2.5"/>
<circle cx="324.41" cy="863.1" r="2.5"/>
<circle cx="228.06" cy="893.5" r="2.5"/>
<circle cx="221.23" cy="852.88" r="2.5"/>
<circle cx="346.64" cy="865.33" r="2.5"/>
<circle cx="284.27" cy="871.02" r="2.5"/>
<circle cx="296.67" cy="885.79" r="2.5"/>
<circle cx="293.53" cy="879.5" r="2.5"/>
<circle cx="193.35" cy="872.51" r="2.5"/>
<circle cx="216.46" cy="872.39" r="2.5"/>
<circle cx="285.53" cy="912.65" r="2.5"/>
<circle cx="408.27" cy="853.54" r="2.5"/>
<circle cx="227.77" cy="888.44" r="2.5"/>
<circle cx="240.39" cy="889.24" r="2.5"/>
<circle cx="291.17" cy="863.28" r="2.5"/>
<circle cx="180.17" cy="879.4" r="2.5"/>
<circle cx="198.68" cy="877.63" r="2.5"/>
<circle cx="149.23" cy="883.54" r="2.5"/>
<circle cx="285.19" cy="875.1" r="2.5"/>
<circle cx="147.68" cy="848.37" r="2.5"/>
<circle cx="195.6" cy="885.25" r="2.5"/>
<circle cx="167.18" cy="878.8" r="2.5"/>
<circle cx="326.63" cy="882.4" r="2.5"/>
<circle cx="198.33" cy="898.09" r="2.5"/>
<circle cx="178.25" cy="859.24" r="2.5"/>
<circle cx="140.35" cy="878.98" r="2.5"/>
<circle cx="200.58" cy="884.2" r="2.5"/>
<circle cx="253.01" cy="869.33" r="2.5"/>
<circle cx="383.53" cy="865.94" r="2.5"/>
<circle cx="183.08" cy="889.91" r="2.5"/>
<circle cx="259.53" cy="880.04" r="2.5"/>
<circle cx="378.28" cy="882.32" r="2.5"/>
<circle cx="378.41" cy="911.42" r="2.5"/>
<circle cx="285.7" cy="874.46" r="2.5"/>
<circle cx="218.25" cy="888.96" r="2.5"/>
<circle cx="318.15" cy="876.2" r="2.5"/>
<circle cx="292.85" cy="884.34" r="2.5"/>
<circle cx="210.61" cy="895.13" r="2.5"/>
<circle cx="194.92" cy="875.85" r="2.5"/>
<circle cx="223.14" cy="894.95" r="2.5"/>
<circle cx="270.97" cy="882.88" r="2.5"/>
<circle cx="383.12" cy="896.39" r="2.5"/>
<circle cx="140.77" cy="892.72" r="2.5"/>
<circle cx="312.3" cy="860.61" r="2.5"/>
<circle cx="228.17" cy="857.34" r="2.5"/>
<circle cx="237.01" cy="855.85" r="2.5"/>
<circle cx="269.11" cy="868.56" r="2.5"/>
<circle cx="299.21" cy="866.99" r="2.5"/>
<circle cx="174.83" cy="904.96" r="2.5"/>
<circle cx="288.43" cy="882.86" r="2.5"/>
<circle cx="385.99" cy="863.12" r="2.5"/>
<circle cx="173.27" cy="900.03" r="2.5"/>
<circle cx="190.9" cy="895.82" r="2.5"/>
<circle cx="203.63" cy="866.54" r="2.5"/>
<circle cx="225.18" cy="906.38" r="2.5"/>
<circle cx="192.87" cy="899.59" r="2.5"/>
<circle cx="261.17" cy="885.11" r="2.5"/>
<circle cx="242.22" cy="877.84" r="2.5"/>
<circle cx="410.82" cy="846.44" r="2.5"/>
<circle cx="286.65" cy="873.61" r="2.5"/>
<circle cx="226.6" cy="869.71" r="2.5"/>
<circle cx="314.02" cy="907.49" r="2.5"/>
<circle cx="229.22" cy="870.65" r="2.5"/>
<circle cx="152.31" cy="863.89" r="2.5"/>
<circle cx="183.72" cy="891.84" r="2.5"/>
<circle cx="263.13" cy="875.64" r="2.5"/>
<circle cx="295.09" cy="885.5" r="2.5"/>
<circle cx="325.63" cy="880.64" r="2.5"/>
<circle cx="233.33" cy="858.23" r="2.5"/>
<circle cx="277.95" cy="893.64" r="2.5"/>
<circle cx="347.81" cy="894.38" r="2.5"/>
<circle cx="143.81" cy="876.18" r="2.5"/>
<circle cx="250.92" cy="890.92" r="2.5"/>
<circle cx="335.17" cy="887.29" r="2.5"/>
<circle cx="331.62" cy="874.81" r="2.5"/>
<circle cx="214.03" cy="888.24" r="2.5"/>
<circle cx="308.6" cy="846.72" r="2.5"/>
<circle cx="319.8" cy="883.89" r="2.5"/>
<circle cx="237.73" cy="867.68" r="2.5"/>
<circle cx="217.27" cy="883.25" r="2.5"/>
<circle cx="176.73" cy="879.38" r="2.5"/>
<circle cx="243.41" cy="893.92" r="2.5"/>
<circle cx="272.52" cy="869.81" r="2.5"/>
<circle cx="241.79" cy="896.35" r="2.5"/>
<circle cx="270.91" cy="874.16" r="2.5"/>
<circle cx="138.98" cy="851.11" r="2.5"/>
<circle cx="319.12" cy="871.34" r="2.5"/>
<circle cx="288.44" cy="867.49" r="2.5"/>
<circle cx="180.56" cy="881.59" r="2.5"/>
<circle cx="179.03" cy="883" r="2.5"/>
<circle cx="170.37" cy="886.29" r="2.5"/>
<circle cx="252.09" cy="863.56" r="2.5"/>
<circle cx="284.4" cy="884.19" r="2.5"/>
</g>
<line x1="132.4" y1="892.1" x2="410.2" y2="842.2" stroke="#222" stroke-width="1"/>
<line x1="121.3" y1="632.2" x2="121.3" y2="914.3" stroke="#606060" stroke-width="1.3"/>
<line x1="112.3" y1="913.8" x2="121.3" y2="913.8" stroke="#606060" stroke-width="1.3"/>
<text x="104.8" y="926.6" font-size="33.3" text-anchor="end" fill="#000">0</text>
<line x1="112.3" y1="843.52" x2="121.3" y2="843.52" stroke="#606060" stroke-width="1.3"/>
<text x="104.8" y="856.32" font-size="33.3" text-anchor="end" fill="#000">45</text>
<line x1="112.3" y1="773.25" x2="121.3" y2="773.25" stroke="#606060" stroke-width="1.3"/>
<text x="104.8" y="786.05" font-size="33.3" text-anchor="end" fill="#000">90</text>
<line x1="112.3" y1="702.98" x2="121.3" y2="702.98" stroke="#606060" stroke-width="1.3"/>
<text x="104.8" y="715.77" font-size="33.3" text-anchor="end" fill="#000">135</text>
<line x1="112.3" y1="632.7" x2="121.3" y2="632.7" stroke="#606060" stroke-width="1.3"/>
<text x="104.8" y="645.5" font-size="33.3" text-anchor="end" fill="#000">180</text>
<line x1="131.9" y1="925.5" x2="412.4" y2="925.5" stroke="#606060" stroke-width="1.3"/>
<line x1="132.4" y1="925.5" x2="132.4" y2="934.6" stroke="#606060" stroke-width="1.3"/>
<text x="132.4" y="969" font-size="33.3" text-anchor="middle" fill="#000">0</text>
<line x1="202.28" y1="925.5" x2="202.28" y2="934.6" stroke="#606060" stroke-width="1.3"/>
<text x="202.28" y="969" font-size="33.3" text-anchor="middle" fill="#000">45</text>
<line x1="272.15" y1="925.5" x2="272.15" y2="934.6" stroke="#606060" stroke-width="1.3"/>
<text x="272.15" y="969" font-size="33.3" text-anchor="middle" fill="#000">90</text>
<line x1="342.02" y1="925.5" x2="342.02" y2="934.6" stroke="#606060" stroke-width="1.3"/>
<text x="342.02" y="969" font-size="33.3" text-anchor="middle" fill="#000">135</text>
<line x1="411.9" y1="925.5" x2="411.9" y2="934.6" stroke="#606060" stroke-width="1.3"/>
<text x="411.9" y="969" font-size="33.3" text-anchor="middle" fill="#000">180</text>
<text x="137" y="665" font-size="35.1" text-anchor="start" fill="#e8141a">Tone-free</text>
<line x1="147.5" y1="988" x2="396.9" y2="988" stroke="#000" stroke-width="2.6"/>
<path d="M 133 988 L 149.5 980 L 149.5 996 Z" fill="#000"/>
<path d="M 411.4 988 L 394.9 980 L 394.9 996 Z" fill="#000"/>
<text x="118" y="1021" font-size="29.7" text-anchor="start" fill="#000">Forward</text>
<text x="444.4" y="1021" font-size="29.7" text-anchor="end" fill="#000">Backward</text>
<g fill="none" stroke="#2a74b8" stroke-width="0.85">
<circle cx="719.31" cy="736.06" r="2.5"/>
<circle cx="680.43" cy="749.71" r="2.5"/>
<circle cx="654.01" cy="762.48" r="2.5"/>
<circle cx="738.31" cy="771.08" r="2.5"/>
<circle cx="740.39" cy="771.08" r="2.5"/>
<circle cx="624.03" cy="777.61" r="2.5"/>
<circle cx="715.45" cy="777.91" r="2.5"/>
<circle cx="628.78" cy="787.11" r="2.5"/>
<circle cx="674.49" cy="793.05" r="2.5"/>
<circle cx="641.84" cy="796.91" r="2.5"/>
<circle cx="653.42" cy="805.81" r="2.5"/>
<circle cx="689.63" cy="821.25" r="2.5"/>
<circle cx="660.24" cy="822.73" r="2.5"/>
<circle cx="715.45" cy="822.73" r="2.5"/>
<circle cx="636.2" cy="824.21" r="2.5"/>
<circle cx="679.83" cy="825.4" r="2.5"/>
<circle cx="694.08" cy="825.4" r="2.5"/>
<circle cx="662.32" cy="827.78" r="2.5"/>
<circle cx="734.75" cy="828.67" r="2.5"/>
<circle cx="711.89" cy="829.56" r="2.5"/>
<circle cx="665.88" cy="831.64" r="2.5"/>
<circle cx="646.59" cy="833.12" r="2.5"/>
<circle cx="655.49" cy="831.93" r="2.5"/>
<circle cx="687.85" cy="833.12" r="2.5"/>
<circle cx="629.37" cy="834.01" r="2.5"/>
<circle cx="599.69" cy="836.38" r="2.5"/>
<circle cx="664.1" cy="834.31" r="2.5"/>
<circle cx="530.23" cy="837.57" r="2.5"/>
<circle cx="658.46" cy="837.57" r="2.5"/>
<circle cx="668.26" cy="838.76" r="2.5"/>
<circle cx="545.97" cy="839.65" r="2.5"/>
<circle cx="654.01" cy="842.02" r="2.5"/>
<circle cx="691.71" cy="841.73" r="2.5"/>
<circle cx="711.3" cy="842.02" r="2.5"/>
<circle cx="495.8" cy="850.04" r="2.5"/>
<circle cx="618.09" cy="845.59" r="2.5"/>
<circle cx="626.11" cy="843.21" r="2.5"/>
<circle cx="742.91" cy="903.38" r="2.5"/>
<circle cx="593.13" cy="893.73" r="2.5"/>
<circle cx="641.86" cy="911.76" r="2.5"/>
<circle cx="691.41" cy="868.11" r="2.5"/>
<circle cx="722.33" cy="855.26" r="2.5"/>
<circle cx="665.35" cy="852.28" r="2.5"/>
<circle cx="604.73" cy="905.33" r="2.5"/>
<circle cx="589.49" cy="879.86" r="2.5"/>
<circle cx="543.73" cy="861.96" r="2.5"/>
<circle cx="521.33" cy="908.61" r="2.5"/>
<circle cx="652.26" cy="882.51" r="2.5"/>
<circle cx="585.33" cy="888.06" r="2.5"/>
<circle cx="602.69" cy="874.18" r="2.5"/>
<circle cx="529.23" cy="895.06" r="2.5"/>
<circle cx="610.33" cy="899.77" r="2.5"/>
<circle cx="730.63" cy="863.06" r="2.5"/>
<circle cx="614.04" cy="889.38" r="2.5"/>
<circle cx="673.62" cy="884.9" r="2.5"/>
<circle cx="753.93" cy="860.64" r="2.5"/>
<circle cx="524.47" cy="888.78" r="2.5"/>
<circle cx="687.57" cy="856.5" r="2.5"/>
<circle cx="669.17" cy="881.09" r="2.5"/>
<circle cx="560.49" cy="877.78" r="2.5"/>
<circle cx="670.57" cy="867.22" r="2.5"/>
<circle cx="652.31" cy="869.9" r="2.5"/>
<circle cx="623.89" cy="877.02" r="2.5"/>
<circle cx="599.38" cy="892.79" r="2.5"/>
<circle cx="684.55" cy="872.18" r="2.5"/>
<circle cx="689.73" cy="856.15" r="2.5"/>
<circle cx="584.2" cy="896.81" r="2.5"/>
<circle cx="622.99" cy="855.73" r="2.5"/>
<circle cx="617.97" cy="884.09" r="2.5"/>
<circle cx="678.2" cy="874.23" r="2.5"/>
<circle cx="590.07" cy="896.38" r="2.5"/>
<circle cx="616.42" cy="875.1" r="2.5"/>
<circle cx="683.18" cy="897.25" r="2.5"/>
<circle cx="680.56" cy="888.57" r="2.5"/>
<circle cx="700.56" cy="855.78" r="2.5"/>
<circle cx="750.13" cy="883.55" r="2.5"/>
<circle cx="635.21" cy="891.22" r="2.5"/>
<circle cx="640.72" cy="869.38" r="2.5"/>
<circle cx="570.84" cy="894.57" r="2.5"/>
<circle cx="585.52" cy="881.07" r="2.5"/>
<circle cx="522.18" cy="888.28" r="2.5"/>
<circle cx="607.61" cy="884.35" r="2.5"/>
<circle cx="659.98" cy="851.38" r="2.5"/>
<circle cx="604.4" cy="859.9" r="2.5"/>
<circle cx="607.69" cy="907.95" r="2.5"/>
<circle cx="627.43" cy="869.51" r="2.5"/>
<circle cx="597.38" cy="891.26" r="2.5"/>
<circle cx="707.29" cy="865.29" r="2.5"/>
<circle cx="533.06" cy="874.94" r="2.5"/>
<circle cx="729.12" cy="872.39" r="2.5"/>
<circle cx="603.13" cy="861.63" r="2.5"/>
<circle cx="551.68" cy="893.84" r="2.5"/>
<circle cx="658.48" cy="869.3" r="2.5"/>
<circle cx="626.3" cy="866.42" r="2.5"/>
<circle cx="630.79" cy="888.26" r="2.5"/>
<circle cx="554.16" cy="888.96" r="2.5"/>
<circle cx="642.56" cy="901.47" r="2.5"/>
<circle cx="585.33" cy="892.89" r="2.5"/>
<circle cx="617.06" cy="895.86" r="2.5"/>
<circle cx="606.95" cy="868.99" r="2.5"/>
<circle cx="553.26" cy="892.5" r="2.5"/>
<circle cx="724.38" cy="881.94" r="2.5"/>
<circle cx="540.54" cy="895.75" r="2.5"/>
<circle cx="586.89" cy="877.17" r="2.5"/>
<circle cx="644.69" cy="862.48" r="2.5"/>
<circle cx="612.25" cy="854.06" r="2.5"/>
<circle cx="532.88" cy="885.11" r="2.5"/>
<circle cx="620.98" cy="869.5" r="2.5"/>
<circle cx="749.52" cy="904.76" r="2.5"/>
<circle cx="593.57" cy="877.14" r="2.5"/>
<circle cx="647.86" cy="898.91" r="2.5"/>
<circle cx="655.35" cy="855.84" r="2.5"/>
<circle cx="569.02" cy="899.9" r="2.5"/>
<circle cx="559.01" cy="881.61" r="2.5"/>
<circle cx="680.2" cy="846.55" r="2.5"/>
<circle cx="663.2" cy="855.25" r="2.5"/>
<circle cx="642.22" cy="853.17" r="2.5"/>
<circle cx="699.05" cy="860.09" r="2.5"/>
<circle cx="626.48" cy="883.71" r="2.5"/>
<circle cx="706.88" cy="859.67" r="2.5"/>
<circle cx="607.43" cy="870.81" r="2.5"/>
<circle cx="635.41" cy="883.04" r="2.5"/>
<circle cx="656.39" cy="903.08" r="2.5"/>
<circle cx="593.86" cy="880.49" r="2.5"/>
<circle cx="696.13" cy="881.42" r="2.5"/>
<circle cx="674.4" cy="888.77" r="2.5"/>
<circle cx="624.89" cy="869.82" r="2.5"/>
<circle cx="598.83" cy="898.12" r="2.5"/>
<circle cx="615.64" cy="881.91" r="2.5"/>
<circle cx="579.97" cy="874.97" r="2.5"/>
<circle cx="622.52" cy="857.28" r="2.5"/>
<circle cx="553.21" cy="880.42" r="2.5"/>
<circle cx="617.41" cy="873.08" r="2.5"/>
<circle cx="523.65" cy="855.23" r="2.5"/>
<circle cx="504.26" cy="881.81" r="2.5"/>
<circle cx="550.04" cy="890.31" r="2.5"/>
<circle cx="665.3" cy="885.93" r="2.5"/>
<circle cx="607.62" cy="887.55" r="2.5"/>
<circle cx="581.45" cy="896.97" r="2.5"/>
<circle cx="749.21" cy="904.23" r="2.5"/>
<circle cx="695.52" cy="907.03" r="2.5"/>
<circle cx="687.61" cy="870.04" r="2.5"/>
<circle cx="547.97" cy="909.07" r="2.5"/>
<circle cx="517.94" cy="882.52" r="2.5"/>
<circle cx="640.03" cy="872.92" r="2.5"/>
<circle cx="687.51" cy="864.36" r="2.5"/>
<circle cx="630.92" cy="871.45" r="2.5"/>
<circle cx="688.3" cy="892.49" r="2.5"/>
<circle cx="544.49" cy="888.44" r="2.5"/>
<circle cx="593.08" cy="888.36" r="2.5"/>
<circle cx="737.41" cy="860.21" r="2.5"/>
<circle cx="721.64" cy="890.67" r="2.5"/>
<circle cx="606.62" cy="903.78" r="2.5"/>
<circle cx="568.4" cy="896.9" r="2.5"/>
<circle cx="643.11" cy="899.82" r="2.5"/>
<circle cx="698.12" cy="900.83" r="2.5"/>
<circle cx="697.57" cy="910" r="2.5"/>
<circle cx="664.29" cy="885.3" r="2.5"/>
<circle cx="695" cy="852.84" r="2.5"/>
<circle cx="594.2" cy="855.26" r="2.5"/>
<circle cx="576.05" cy="903.78" r="2.5"/>
<circle cx="730.71" cy="857.3" r="2.5"/>
<circle cx="503.8" cy="870.31" r="2.5"/>
<circle cx="596.11" cy="883.78" r="2.5"/>
<circle cx="617.62" cy="882.82" r="2.5"/>
<circle cx="658.83" cy="880.8" r="2.5"/>
<circle cx="669.5" cy="855.81" r="2.5"/>
<circle cx="554.53" cy="875.13" r="2.5"/>
<circle cx="629.41" cy="878.53" r="2.5"/>
<circle cx="497.56" cy="901.76" r="2.5"/>
<circle cx="699.76" cy="908.25" r="2.5"/>
<circle cx="689.86" cy="852.6" r="2.5"/>
<circle cx="638.46" cy="849.69" r="2.5"/>
<circle cx="601.69" cy="892.22" r="2.5"/>
<circle cx="540.43" cy="896.9" r="2.5"/>
<circle cx="592.83" cy="901.51" r="2.5"/>
<circle cx="695.37" cy="908.65" r="2.5"/>
<circle cx="709.88" cy="874.88" r="2.5"/>
<circle cx="641.51" cy="892.44" r="2.5"/>
<circle cx="539.32" cy="873.97" r="2.5"/>
<circle cx="636.43" cy="906.34" r="2.5"/>
<circle cx="609.05" cy="859.37" r="2.5"/>
<circle cx="583.01" cy="869.99" r="2.5"/>
<circle cx="711.44" cy="862.21" r="2.5"/>
<circle cx="592.25" cy="858.3" r="2.5"/>
<circle cx="596.11" cy="879.7" r="2.5"/>
<circle cx="609.04" cy="867.72" r="2.5"/>
<circle cx="524.68" cy="875.79" r="2.5"/>
<circle cx="668.42" cy="859.31" r="2.5"/>
<circle cx="555.55" cy="912.36" r="2.5"/>
<circle cx="586.17" cy="889.1" r="2.5"/>
<circle cx="673.67" cy="870.8" r="2.5"/>
<circle cx="497.51" cy="857.95" r="2.5"/>
<circle cx="713.91" cy="883.86" r="2.5"/>
<circle cx="616.3" cy="896.68" r="2.5"/>
<circle cx="541.17" cy="883.25" r="2.5"/>
<circle cx="686.38" cy="879.72" r="2.5"/>
<circle cx="576.94" cy="905.41" r="2.5"/>
<circle cx="692.86" cy="882.94" r="2.5"/>
<circle cx="637.78" cy="897.76" r="2.5"/>
<circle cx="637.46" cy="885.35" r="2.5"/>
<circle cx="712.65" cy="869.7" r="2.5"/>
<circle cx="620.9" cy="879.78" r="2.5"/>
<circle cx="650.76" cy="888.52" r="2.5"/>
<circle cx="514.37" cy="886.45" r="2.5"/>
<circle cx="608.06" cy="883.51" r="2.5"/>
<circle cx="631.91" cy="873.7" r="2.5"/>
<circle cx="641.88" cy="904.73" r="2.5"/>
<circle cx="600.36" cy="903.08" r="2.5"/>
<circle cx="557.68" cy="855.03" r="2.5"/>
<circle cx="644.59" cy="912.2" r="2.5"/>
<circle cx="596.97" cy="863.84" r="2.5"/>
<circle cx="673.23" cy="864.14" r="2.5"/>
<circle cx="701.63" cy="854.61" r="2.5"/>
<circle cx="713.07" cy="886.72" r="2.5"/>
<circle cx="604.99" cy="868.92" r="2.5"/>
<circle cx="579.29" cy="878.35" r="2.5"/>
<circle cx="618.96" cy="908.54" r="2.5"/>
<circle cx="645.3" cy="871.17" r="2.5"/>
<circle cx="690.13" cy="909.25" r="2.5"/>
<circle cx="586.97" cy="863.54" r="2.5"/>
<circle cx="613.86" cy="878.45" r="2.5"/>
<circle cx="622.03" cy="897.16" r="2.5"/>
<circle cx="650.42" cy="869.89" r="2.5"/>
<circle cx="702.19" cy="875.5" r="2.5"/>
<circle cx="684.42" cy="909.16" r="2.5"/>
<circle cx="690.01" cy="877.45" r="2.5"/>
<circle cx="584.86" cy="885.54" r="2.5"/>
<circle cx="567.48" cy="878.81" r="2.5"/>
<circle cx="517.61" cy="909.65" r="2.5"/>
<circle cx="667.73" cy="868.93" r="2.5"/>
<circle cx="713.64" cy="886.88" r="2.5"/>
<circle cx="672.6" cy="887.89" r="2.5"/>
<circle cx="531.15" cy="887.13" r="2.5"/>
<circle cx="543.21" cy="875.86" r="2.5"/>
<circle cx="601.23" cy="902.57" r="2.5"/>
<circle cx="510.5" cy="887.99" r="2.5"/>
<circle cx="677.09" cy="855.16" r="2.5"/>
<circle cx="604.37" cy="871.19" r="2.5"/>
<circle cx="654.67" cy="880" r="2.5"/>
<circle cx="635.26" cy="895.95" r="2.5"/>
<circle cx="576.73" cy="880.49" r="2.5"/>
<circle cx="677.14" cy="890.76" r="2.5"/>
<circle cx="718.89" cy="912.62" r="2.5"/>
<circle cx="654.72" cy="897.44" r="2.5"/>
<circle cx="701.65" cy="874.31" r="2.5"/>
<circle cx="658.85" cy="910.34" r="2.5"/>
<circle cx="598.28" cy="877.07" r="2.5"/>
<circle cx="753.17" cy="857.79" r="2.5"/>
<circle cx="561.98" cy="894.28" r="2.5"/>
<circle cx="642.61" cy="890.31" r="2.5"/>
<circle cx="631.91" cy="886.08" r="2.5"/>
<circle cx="619.46" cy="897.76" r="2.5"/>
<circle cx="701.74" cy="869.98" r="2.5"/>
<circle cx="607.67" cy="902.85" r="2.5"/>
<circle cx="652.19" cy="911.47" r="2.5"/>
<circle cx="564.43" cy="859.14" r="2.5"/>
<circle cx="695.86" cy="866.77" r="2.5"/>
<circle cx="617.48" cy="904.56" r="2.5"/>
<circle cx="504.69" cy="884.57" r="2.5"/>
<circle cx="671.06" cy="871.64" r="2.5"/>
<circle cx="596.28" cy="870.32" r="2.5"/>
<circle cx="625.18" cy="852.74" r="2.5"/>
<circle cx="669.67" cy="899.94" r="2.5"/>
<circle cx="656.76" cy="890.76" r="2.5"/>
<circle cx="657.03" cy="873.61" r="2.5"/>
<circle cx="698.89" cy="868.37" r="2.5"/>
<circle cx="496.61" cy="898.33" r="2.5"/>
<circle cx="525.71" cy="873.56" r="2.5"/>
<circle cx="521.41" cy="869.41" r="2.5"/>
<circle cx="632.42" cy="867.14" r="2.5"/>
<circle cx="574.96" cy="879.25" r="2.5"/>
<circle cx="621.81" cy="910.6" r="2.5"/>
<circle cx="598.09" cy="881.21" r="2.5"/>
<circle cx="649.19" cy="863.37" r="2.5"/>
<circle cx="634.24" cy="881.25" r="2.5"/>
<circle cx="632.62" cy="872.56" r="2.5"/>
<circle cx="622.56" cy="847.16" r="2.5"/>
<circle cx="607.2" cy="878.11" r="2.5"/>
<circle cx="591.68" cy="878.28" r="2.5"/>
<circle cx="626.53" cy="903.91" r="2.5"/>
<circle cx="545.51" cy="866.97" r="2.5"/>
<circle cx="655.59" cy="869.32" r="2.5"/>
<circle cx="576.19" cy="901.75" r="2.5"/>
<circle cx="730.77" cy="870.47" r="2.5"/>
<circle cx="548.78" cy="904.93" r="2.5"/>
<circle cx="578.24" cy="897.37" r="2.5"/>
<circle cx="531.04" cy="879.32" r="2.5"/>
<circle cx="697.88" cy="885.88" r="2.5"/>
<circle cx="755.32" cy="846.31" r="2.5"/>
<circle cx="651.69" cy="885.51" r="2.5"/>
<circle cx="675.86" cy="862.93" r="2.5"/>
<circle cx="598.59" cy="888.79" r="2.5"/>
<circle cx="586.69" cy="887.6" r="2.5"/>
<circle cx="657.33" cy="909.05" r="2.5"/>
<circle cx="625.48" cy="879.18" r="2.5"/>
<circle cx="636.98" cy="869.66" r="2.5"/>
<circle cx="745.78" cy="864.3" r="2.5"/>
<circle cx="566.83" cy="898.45" r="2.5"/>
<circle cx="670.93" cy="904.96" r="2.5"/>
<circle cx="632.6" cy="848.54" r="2.5"/>
<circle cx="616.01" cy="890.1" r="2.5"/>
</g>
<line x1="495.8" y1="893.7" x2="770.4" y2="847.4" stroke="#222" stroke-width="1"/>
<line x1="483.6" y1="632.2" x2="483.6" y2="914.3" stroke="#606060" stroke-width="1.3"/>
<line x1="474.6" y1="913.8" x2="483.6" y2="913.8" stroke="#606060" stroke-width="1.3"/>
<text x="467.1" y="926.6" font-size="33.3" text-anchor="end" fill="#000">0</text>
<line x1="474.6" y1="843.52" x2="483.6" y2="843.52" stroke="#606060" stroke-width="1.3"/>
<text x="467.1" y="856.32" font-size="33.3" text-anchor="end" fill="#000">45</text>
<line x1="474.6" y1="773.25" x2="483.6" y2="773.25" stroke="#606060" stroke-width="1.3"/>
<text x="467.1" y="786.05" font-size="33.3" text-anchor="end" fill="#000">90</text>
<line x1="474.6" y1="702.98" x2="483.6" y2="702.98" stroke="#606060" stroke-width="1.3"/>
<text x="467.1" y="715.77" font-size="33.3" text-anchor="end" fill="#000">135</text>
<line x1="474.6" y1="632.7" x2="483.6" y2="632.7" stroke="#606060" stroke-width="1.3"/>
<text x="467.1" y="645.5" font-size="33.3" text-anchor="end" fill="#000">180</text>
<line x1="493.2" y1="925.5" x2="774.4" y2="925.5" stroke="#606060" stroke-width="1.3"/>
<line x1="493.7" y1="925.5" x2="493.7" y2="934.6" stroke="#606060" stroke-width="1.3"/>
<text x="493.7" y="969" font-size="33.3" text-anchor="middle" fill="#000">0</text>
<line x1="563.75" y1="925.5" x2="563.75" y2="934.6" stroke="#606060" stroke-width="1.3"/>
<text x="563.75" y="969" font-size="33.3" text-anchor="middle" fill="#000">45</text>
<line x1="633.8" y1="925.5" x2="633.8" y2="934.6" stroke="#606060" stroke-width="1.3"/>
<text x="633.8" y="969" font-size="33.3" text-anchor="middle" fill="#000">90</text>
<line x1="703.85" y1="925.5" x2="703.85" y2="934.6" stroke="#606060" stroke-width="1.3"/>
<text x="703.85" y="969" font-size="33.3" text-anchor="middle" fill="#000">135</text>
<line x1="773.9" y1="925.5" x2="773.9" y2="934.6" stroke="#606060" stroke-width="1.3"/>
<text x="773.9" y="969" font-size="33.3" text-anchor="middle" fill="#000">180</text>
<text x="498" y="665" font-size="34.2" text-anchor="start" fill="#2a74b8">5-kHz tone</text>
<line x1="508.8" y1="988" x2="758.9" y2="988" stroke="#000" stroke-width="2.6"/>
<path d="M 494.3 988 L 510.8 980 L 510.8 996 Z" fill="#000"/>
<path d="M 773.4 988 L 756.9 980 L 756.9 996 Z" fill="#000"/>
<text x="479.3" y="1021" font-size="29.7" text-anchor="start" fill="#000">Forward</text>
<text x="806.4" y="1021" font-size="29.7" text-anchor="end" fill="#000">Backward</text>
<g fill="none" stroke="#42ac3e" stroke-width="0.85">
<circle cx="1132.74" cy="649.68" r="2.5"/>
<circle cx="1093.86" cy="687.08" r="2.5"/>
<circle cx="1033.01" cy="691.83" r="2.5"/>
<circle cx="1033.9" cy="707.27" r="2.5"/>
<circle cx="1080.8" cy="712.31" r="2.5"/>
<circle cx="1016.38" cy="715.87" r="2.5"/>
<circle cx="1083.17" cy="728.34" r="2.5"/>
<circle cx="1028.85" cy="737.25" r="2.5"/>
<circle cx="983.73" cy="744.67" r="2.5"/>
<circle cx="1028.26" cy="755.95" r="2.5"/>
<circle cx="1049.93" cy="754.46" r="2.5"/>
<circle cx="1052.89" cy="763.66" r="2.5"/>
<circle cx="1076.05" cy="763.07" r="2.5"/>
<circle cx="1087.62" cy="767.22" r="2.5"/>
<circle cx="1097.71" cy="769.6" r="2.5"/>
<circle cx="991.15" cy="772.86" r="2.5"/>
<circle cx="1051.71" cy="775.24" r="2.5"/>
<circle cx="1051.41" cy="778.5" r="2.5"/>
<circle cx="1042.8" cy="778.8" r="2.5"/>
<circle cx="993.23" cy="779.69" r="2.5"/>
<circle cx="1008.67" cy="783.85" r="2.5"/>
<circle cx="1082.87" cy="784.74" r="2.5"/>
<circle cx="1057.05" cy="790.38" r="2.5"/>
<circle cx="1051.41" cy="793.94" r="2.5"/>
<circle cx="1014.01" cy="794.53" r="2.5"/>
<circle cx="933.57" cy="795.72" r="2.5"/>
<circle cx="1036.27" cy="797.5" r="2.5"/>
<circle cx="954.94" cy="800.17" r="2.5"/>
<circle cx="1095.93" cy="799.58" r="2.5"/>
<circle cx="981.95" cy="807" r="2.5"/>
<circle cx="1110.48" cy="809.97" r="2.5"/>
<circle cx="987" cy="814.72" r="2.5"/>
<circle cx="1102.46" cy="815.01" r="2.5"/>
<circle cx="994.12" cy="819.17" r="2.5"/>
<circle cx="976.02" cy="824.21" r="2.5"/>
<circle cx="976.61" cy="826.89" r="2.5"/>
<circle cx="1052.89" cy="825.11" r="2.5"/>
<circle cx="1019.95" cy="827.48" r="2.5"/>
<circle cx="1031.82" cy="826.89" r="2.5"/>
<circle cx="1064.17" cy="829.56" r="2.5"/>
<circle cx="1109.29" cy="829.85" r="2.5"/>
<circle cx="1045.18" cy="831.64" r="2.5"/>
<circle cx="1058.24" cy="832.53" r="2.5"/>
<circle cx="1052.89" cy="833.71" r="2.5"/>
<circle cx="983.14" cy="834.01" r="2.5"/>
<circle cx="1012.82" cy="834.01" r="2.5"/>
<circle cx="1058.53" cy="836.09" r="2.5"/>
<circle cx="966.52" cy="837.28" r="2.5"/>
<circle cx="1081.09" cy="836.98" r="2.5"/>
<circle cx="994.42" cy="838.76" r="2.5"/>
<circle cx="1015.79" cy="840.54" r="2.5"/>
<circle cx="953.16" cy="842.91" r="2.5"/>
<circle cx="1067.14" cy="842.02" r="2.5"/>
<circle cx="1110.48" cy="842.02" r="2.5"/>
<circle cx="1098.01" cy="841.43" r="2.5"/>
<circle cx="1041.02" cy="845.59" r="2.5"/>
<circle cx="1088.51" cy="844.99" r="2.5"/>
<circle cx="990.26" cy="847.37" r="2.5"/>
<circle cx="994.42" cy="847.07" r="2.5"/>
<circle cx="1001.84" cy="847.07" r="2.5"/>
<circle cx="978.98" cy="848.55" r="2.5"/>
<circle cx="1008.67" cy="848.85" r="2.5"/>
<circle cx="971.56" cy="850.04" r="2.5"/>
<circle cx="1047.85" cy="850.04" r="2.5"/>
<circle cx="1055.97" cy="875.39" r="2.5"/>
<circle cx="957.1" cy="863.6" r="2.5"/>
<circle cx="969.38" cy="901.51" r="2.5"/>
<circle cx="1052.73" cy="873.3" r="2.5"/>
<circle cx="1086.81" cy="880.76" r="2.5"/>
<circle cx="1021.28" cy="901.34" r="2.5"/>
<circle cx="1025.4" cy="877.54" r="2.5"/>
<circle cx="1112.43" cy="857.57" r="2.5"/>
<circle cx="1028.31" cy="905.74" r="2.5"/>
<circle cx="1104.38" cy="902.42" r="2.5"/>
<circle cx="863.45" cy="903.59" r="2.5"/>
<circle cx="1004.7" cy="877.13" r="2.5"/>
<circle cx="946.79" cy="868.06" r="2.5"/>
<circle cx="987.25" cy="875.79" r="2.5"/>
<circle cx="953.36" cy="852.67" r="2.5"/>
<circle cx="1038.58" cy="885.79" r="2.5"/>
<circle cx="1037.75" cy="876.83" r="2.5"/>
<circle cx="943.86" cy="874" r="2.5"/>
<circle cx="874.37" cy="876.89" r="2.5"/>
<circle cx="976.51" cy="904.63" r="2.5"/>
<circle cx="1060.52" cy="870.81" r="2.5"/>
<circle cx="989.69" cy="864.58" r="2.5"/>
<circle cx="1028.95" cy="900.64" r="2.5"/>
<circle cx="1047.1" cy="905.26" r="2.5"/>
<circle cx="1125.21" cy="910.24" r="2.5"/>
<circle cx="1037.2" cy="900.66" r="2.5"/>
<circle cx="1010.59" cy="902.35" r="2.5"/>
<circle cx="1005.4" cy="879.16" r="2.5"/>
<circle cx="901.12" cy="877.89" r="2.5"/>
<circle cx="989.58" cy="896.56" r="2.5"/>
<circle cx="1055.55" cy="900.13" r="2.5"/>
<circle cx="1002.24" cy="891.21" r="2.5"/>
<circle cx="928.51" cy="882.06" r="2.5"/>
<circle cx="895.37" cy="873.84" r="2.5"/>
<circle cx="1083.87" cy="900.09" r="2.5"/>
<circle cx="1016.45" cy="868.21" r="2.5"/>
<circle cx="1084.11" cy="904.96" r="2.5"/>
<circle cx="1035.3" cy="896.2" r="2.5"/>
<circle cx="918.38" cy="898.34" r="2.5"/>
<circle cx="1049.65" cy="898.87" r="2.5"/>
<circle cx="1022.14" cy="867.91" r="2.5"/>
<circle cx="1087.22" cy="904.93" r="2.5"/>
<circle cx="1000.44" cy="868.8" r="2.5"/>
<circle cx="1067.69" cy="910.52" r="2.5"/>
<circle cx="911.44" cy="889.05" r="2.5"/>
<circle cx="1021.99" cy="867.67" r="2.5"/>
<circle cx="1112.11" cy="872.17" r="2.5"/>
<circle cx="1041.06" cy="897.77" r="2.5"/>
<circle cx="997.14" cy="864.84" r="2.5"/>
<circle cx="1012.43" cy="895" r="2.5"/>
<circle cx="1000.26" cy="896.08" r="2.5"/>
<circle cx="890.3" cy="906.76" r="2.5"/>
<circle cx="1013.24" cy="898.38" r="2.5"/>
<circle cx="963.53" cy="902.08" r="2.5"/>
<circle cx="1014.86" cy="892.5" r="2.5"/>
<circle cx="1023.08" cy="895.72" r="2.5"/>
<circle cx="976.48" cy="901.27" r="2.5"/>
<circle cx="1084.39" cy="883.39" r="2.5"/>
<circle cx="1008.39" cy="883.62" r="2.5"/>
<circle cx="953.29" cy="883.46" r="2.5"/>
<circle cx="887.81" cy="857.6" r="2.5"/>
<circle cx="982.3" cy="874.13" r="2.5"/>
<circle cx="951.25" cy="887.02" r="2.5"/>
<circle cx="1022.93" cy="881.08" r="2.5"/>
<circle cx="1113.44" cy="861.48" r="2.5"/>
<circle cx="878.82" cy="910.76" r="2.5"/>
<circle cx="937.01" cy="890.88" r="2.5"/>
<circle cx="1045.39" cy="903.33" r="2.5"/>
<circle cx="885.87" cy="909.19" r="2.5"/>
<circle cx="914.31" cy="874.5" r="2.5"/>
<circle cx="966.04" cy="858.81" r="2.5"/>
<circle cx="948.78" cy="889.44" r="2.5"/>
<circle cx="905.01" cy="893.04" r="2.5"/>
<circle cx="1001.01" cy="901.67" r="2.5"/>
<circle cx="1061.48" cy="868.91" r="2.5"/>
<circle cx="1029.89" cy="862.16" r="2.5"/>
<circle cx="882.04" cy="890.92" r="2.5"/>
<circle cx="1063.95" cy="883.99" r="2.5"/>
<circle cx="1052.66" cy="871.57" r="2.5"/>
<circle cx="963.49" cy="887.42" r="2.5"/>
<circle cx="874.84" cy="855.11" r="2.5"/>
<circle cx="998.76" cy="904.26" r="2.5"/>
<circle cx="920.61" cy="870.97" r="2.5"/>
<circle cx="868.99" cy="872.2" r="2.5"/>
<circle cx="1076.06" cy="867.88" r="2.5"/>
<circle cx="955.04" cy="870.7" r="2.5"/>
<circle cx="1032.54" cy="860.32" r="2.5"/>
<circle cx="1099.96" cy="889.45" r="2.5"/>
<circle cx="1018.43" cy="877.31" r="2.5"/>
<circle cx="911.32" cy="873.8" r="2.5"/>
<circle cx="1129.62" cy="901.94" r="2.5"/>
<circle cx="1039.37" cy="890.91" r="2.5"/>
<circle cx="1036.43" cy="907.78" r="2.5"/>
<circle cx="1030.59" cy="854.58" r="2.5"/>
<circle cx="1062.49" cy="892.32" r="2.5"/>
<circle cx="1058.91" cy="878.26" r="2.5"/>
<circle cx="1060.88" cy="893.98" r="2.5"/>
<circle cx="986.69" cy="904.94" r="2.5"/>
<circle cx="948.93" cy="875.72" r="2.5"/>
<circle cx="962.1" cy="904.27" r="2.5"/>
<circle cx="1001.29" cy="897.2" r="2.5"/>
<circle cx="1054.73" cy="862.31" r="2.5"/>
<circle cx="1128.7" cy="898.95" r="2.5"/>
<circle cx="935.95" cy="869.13" r="2.5"/>
<circle cx="997.32" cy="890.19" r="2.5"/>
<circle cx="969.33" cy="887.82" r="2.5"/>
<circle cx="914.44" cy="868.94" r="2.5"/>
<circle cx="1037.44" cy="882.54" r="2.5"/>
<circle cx="941.37" cy="889.17" r="2.5"/>
<circle cx="1107.32" cy="913.17" r="2.5"/>
<circle cx="1055.98" cy="880.1" r="2.5"/>
<circle cx="1015.31" cy="873.48" r="2.5"/>
<circle cx="1029.84" cy="869.76" r="2.5"/>
<circle cx="883.28" cy="903.41" r="2.5"/>
<circle cx="1069.37" cy="870.84" r="2.5"/>
<circle cx="1114.62" cy="893.39" r="2.5"/>
<circle cx="1023.58" cy="874.14" r="2.5"/>
<circle cx="1095.14" cy="862.63" r="2.5"/>
<circle cx="978.07" cy="899.78" r="2.5"/>
<circle cx="888.29" cy="907.55" r="2.5"/>
<circle cx="1088.19" cy="871.7" r="2.5"/>
<circle cx="931.38" cy="879" r="2.5"/>
<circle cx="1083.26" cy="887.64" r="2.5"/>
<circle cx="913.4" cy="901.07" r="2.5"/>
<circle cx="978.49" cy="882.07" r="2.5"/>
<circle cx="972.38" cy="899.61" r="2.5"/>
<circle cx="1042.93" cy="895.15" r="2.5"/>
<circle cx="1097.49" cy="884.21" r="2.5"/>
<circle cx="972.12" cy="894.74" r="2.5"/>
<circle cx="1116.91" cy="896.54" r="2.5"/>
<circle cx="947.4" cy="897.04" r="2.5"/>
<circle cx="1072.88" cy="894.94" r="2.5"/>
<circle cx="925.74" cy="851.89" r="2.5"/>
<circle cx="1112.97" cy="897.28" r="2.5"/>
<circle cx="1005.61" cy="852.29" r="2.5"/>
<circle cx="1023.75" cy="894.41" r="2.5"/>
<circle cx="984.8" cy="899.17" r="2.5"/>
<circle cx="1114.06" cy="855.61" r="2.5"/>
<circle cx="1001.92" cy="894.08" r="2.5"/>
<circle cx="937.32" cy="876.14" r="2.5"/>
<circle cx="1021.06" cy="890.43" r="2.5"/>
<circle cx="1080.56" cy="887.21" r="2.5"/>
<circle cx="1027.88" cy="901.28" r="2.5"/>
<circle cx="1019.54" cy="891.3" r="2.5"/>
<circle cx="1011.07" cy="887.28" r="2.5"/>
<circle cx="907.47" cy="885.35" r="2.5"/>
<circle cx="1022.86" cy="884.18" r="2.5"/>
<circle cx="988.19" cy="889.96" r="2.5"/>
<circle cx="892.11" cy="874.52" r="2.5"/>
<circle cx="1079.1" cy="867.18" r="2.5"/>
<circle cx="930.74" cy="886.92" r="2.5"/>
<circle cx="986.17" cy="876.63" r="2.5"/>
<circle cx="891.41" cy="886.43" r="2.5"/>
<circle cx="1081.59" cy="878.58" r="2.5"/>
<circle cx="980.02" cy="889.58" r="2.5"/>
<circle cx="1126.45" cy="890.94" r="2.5"/>
<circle cx="898.93" cy="874.19" r="2.5"/>
<circle cx="1070.97" cy="872.77" r="2.5"/>
<circle cx="931.16" cy="903.5" r="2.5"/>
<circle cx="1131.81" cy="855.69" r="2.5"/>
<circle cx="950.27" cy="910.18" r="2.5"/>
<circle cx="988.16" cy="865.72" r="2.5"/>
<circle cx="970.74" cy="884.32" r="2.5"/>
<circle cx="1005.12" cy="908.41" r="2.5"/>
<circle cx="998.9" cy="893.69" r="2.5"/>
<circle cx="1109.3" cy="859.19" r="2.5"/>
<circle cx="1005.42" cy="880.82" r="2.5"/>
<circle cx="943.56" cy="858.56" r="2.5"/>
<circle cx="1066.25" cy="896.72" r="2.5"/>
<circle cx="985.41" cy="870.28" r="2.5"/>
<circle cx="1080.68" cy="898.27" r="2.5"/>
<circle cx="1062.07" cy="894.87" r="2.5"/>
<circle cx="997.78" cy="859.86" r="2.5"/>
<circle cx="987.99" cy="867.36" r="2.5"/>
<circle cx="1130.99" cy="889.55" r="2.5"/>
<circle cx="933.93" cy="901.29" r="2.5"/>
<circle cx="987.76" cy="888.73" r="2.5"/>
<circle cx="1123.39" cy="868.92" r="2.5"/>
<circle cx="861.98" cy="899.92" r="2.5"/>
<circle cx="1103.72" cy="871.98" r="2.5"/>
<circle cx="882.94" cy="890.73" r="2.5"/>
<circle cx="1011.57" cy="888.82" r="2.5"/>
<circle cx="964.17" cy="877.94" r="2.5"/>
<circle cx="1026.65" cy="894.23" r="2.5"/>
<circle cx="1076.67" cy="868.46" r="2.5"/>
<circle cx="1002.33" cy="886.32" r="2.5"/>
<circle cx="1039.9" cy="886.73" r="2.5"/>
<circle cx="1004.86" cy="893.64" r="2.5"/>
<circle cx="903.08" cy="891.74" r="2.5"/>
<circle cx="1054.53" cy="884.66" r="2.5"/>
<circle cx="965.4" cy="863.95" r="2.5"/>
<circle cx="1077.42" cy="911.64" r="2.5"/>
<circle cx="874.26" cy="895.61" r="2.5"/>
<circle cx="1045.24" cy="912.72" r="2.5"/>
<circle cx="970.76" cy="883.7" r="2.5"/>
<circle cx="944.96" cy="870.21" r="2.5"/>
<circle cx="958.3" cy="869.65" r="2.5"/>
<circle cx="914.9" cy="901.63" r="2.5"/>
<circle cx="1065.78" cy="895.21" r="2.5"/>
<circle cx="926.56" cy="907.62" r="2.5"/>
<circle cx="1129.78" cy="878.33" r="2.5"/>
<circle cx="1025.66" cy="906.33" r="2.5"/>
<circle cx="877.54" cy="907.04" r="2.5"/>
<circle cx="1077.78" cy="898.18" r="2.5"/>
<circle cx="1064.24" cy="887.4" r="2.5"/>
<circle cx="967.96" cy="897.79" r="2.5"/>
<circle cx="872.42" cy="911.79" r="2.5"/>
<circle cx="866.77" cy="899.3" r="2.5"/>
<circle cx="1127.11" cy="909.93" r="2.5"/>
<circle cx="1011.3" cy="904.51" r="2.5"/>
<circle cx="893.36" cy="885.51" r="2.5"/>
<circle cx="1083.75" cy="871.88" r="2.5"/>
<circle cx="960.66" cy="900.87" r="2.5"/>
<circle cx="1041.09" cy="871.85" r="2.5"/>
<circle cx="1091.18" cy="892.77" r="2.5"/>
</g>
<line x1="873.6" y1="891.6" x2="1133" y2="831.6" stroke="#222" stroke-width="1"/>
<line x1="844.5" y1="632.2" x2="844.5" y2="914.3" stroke="#606060" stroke-width="1.3"/>
<line x1="835.5" y1="913.8" x2="844.5" y2="913.8" stroke="#606060" stroke-width="1.3"/>
<text x="828" y="926.6" font-size="33.3" text-anchor="end" fill="#000">0</text>
<line x1="835.5" y1="843.52" x2="844.5" y2="843.52" stroke="#606060" stroke-width="1.3"/>
<text x="828" y="856.32" font-size="33.3" text-anchor="end" fill="#000">45</text>
<line x1="835.5" y1="773.25" x2="844.5" y2="773.25" stroke="#606060" stroke-width="1.3"/>
<text x="828" y="786.05" font-size="33.3" text-anchor="end" fill="#000">90</text>
<line x1="835.5" y1="702.98" x2="844.5" y2="702.98" stroke="#606060" stroke-width="1.3"/>
<text x="828" y="715.77" font-size="33.3" text-anchor="end" fill="#000">135</text>
<line x1="835.5" y1="632.7" x2="844.5" y2="632.7" stroke="#606060" stroke-width="1.3"/>
<text x="828" y="645.5" font-size="33.3" text-anchor="end" fill="#000">180</text>
<line x1="854.7" y1="925.5" x2="1135.9" y2="925.5" stroke="#606060" stroke-width="1.3"/>
<line x1="855.2" y1="925.5" x2="855.2" y2="934.6" stroke="#606060" stroke-width="1.3"/>
<text x="855.2" y="969" font-size="33.3" text-anchor="middle" fill="#000">0</text>
<line x1="925.25" y1="925.5" x2="925.25" y2="934.6" stroke="#606060" stroke-width="1.3"/>
<text x="925.25" y="969" font-size="33.3" text-anchor="middle" fill="#000">45</text>
<line x1="995.3" y1="925.5" x2="995.3" y2="934.6" stroke="#606060" stroke-width="1.3"/>
<text x="995.3" y="969" font-size="33.3" text-anchor="middle" fill="#000">90</text>
<line x1="1065.35" y1="925.5" x2="1065.35" y2="934.6" stroke="#606060" stroke-width="1.3"/>
<text x="1065.35" y="969" font-size="33.3" text-anchor="middle" fill="#000">135</text>
<line x1="1135.4" y1="925.5" x2="1135.4" y2="934.6" stroke="#606060" stroke-width="1.3"/>
<text x="1135.4" y="969" font-size="33.3" text-anchor="middle" fill="#000">180</text>
<text x="860" y="665" font-size="34.2" text-anchor="start" fill="#42ac3e">15-kHz tone</text>
<line x1="870.3" y1="988" x2="1120.4" y2="988" stroke="#000" stroke-width="2.6"/>
<path d="M 855.8 988 L 872.3 980 L 872.3 996 Z" fill="#000"/>
<path d="M 1134.9 988 L 1118.4 980 L 1118.4 996 Z" fill="#000"/>
<text x="840.8" y="1021" font-size="29.7" text-anchor="start" fill="#000">Forward</text>
<text x="1167.9" y="1021" font-size="29.7" text-anchor="end" fill="#000">Backward</text>
<text x="35.4" y="796.2" font-size="34.65" text-anchor="middle" fill="#000" transform="rotate(-90 35.4 796.2)">Turn magnitude (°)</text>
<text x="632.5" y="1064" font-size="34.2" text-anchor="middle" fill="#000">Walking direction (°)</text>
<text x="1164" y="630.5" font-size="32.5" text-anchor="start" fill="#000">(e)</text>
<line x1="1321.2" y1="875.93" x2="1592.2" y2="698.67" stroke="#e8141a" stroke-width="2"/>
<line x1="1321.2" y1="852.34" x2="1592.2" y2="749.9" stroke="#2a74b8" stroke-width="2"/>
<line x1="1321.2" y1="875.93" x2="1587.68" y2="628.58" stroke="#42ac3e" stroke-width="2"/>
<circle cx="1343.78" cy="836.84" r="4.4" fill="#e8141a"/>
<circle cx="1388.95" cy="853.02" r="4.4" fill="#e8141a"/>
<circle cx="1434.12" cy="815.27" r="4.4" fill="#e8141a"/>
<circle cx="1479.28" cy="783.6" r="4.4" fill="#e8141a"/>
<circle cx="1524.45" cy="720.91" r="4.4" fill="#e8141a"/>
<circle cx="1569.62" cy="716.87" r="4.4" fill="#e8141a"/>
<circle cx="1343.78" cy="825.38" r="4.4" fill="#2a74b8"/>
<circle cx="1388.95" cy="846.28" r="4.4" fill="#2a74b8"/>
<circle cx="1434.12" cy="815.27" r="4.4" fill="#2a74b8"/>
<circle cx="1479.28" cy="791.01" r="4.4" fill="#2a74b8"/>
<circle cx="1524.45" cy="778.88" r="4.4" fill="#2a74b8"/>
<circle cx="1569.62" cy="751.24" r="4.4" fill="#2a74b8"/>
<circle cx="1343.78" cy="868.18" r="4.4" fill="#42ac3e"/>
<circle cx="1388.95" cy="821.34" r="4.4" fill="#42ac3e"/>
<circle cx="1434.12" cy="763.38" r="4.4" fill="#42ac3e"/>
<circle cx="1479.28" cy="685.19" r="4.4" fill="#42ac3e"/>
<circle cx="1524.45" cy="704.06" r="4.4" fill="#42ac3e"/>
<circle cx="1569.62" cy="659.58" r="4.4" fill="#42ac3e"/>
<line x1="1311.4" y1="645.3" x2="1311.4" y2="916.5" stroke="#111" stroke-width="1.7"/>
<line x1="1300.9" y1="915.7" x2="1311.4" y2="915.7" stroke="#111" stroke-width="1.6"/>
<text x="1291.9" y="925.5" font-size="33.3" text-anchor="end" fill="#000">0</text>
<line x1="1300.9" y1="848.3" x2="1311.4" y2="848.3" stroke="#111" stroke-width="1.6"/>
<text x="1291.9" y="860.5" font-size="33.3" text-anchor="end" fill="#000">10</text>
<line x1="1300.9" y1="780.9" x2="1311.4" y2="780.9" stroke="#111" stroke-width="1.6"/>
<text x="1291.9" y="790.7" font-size="33.3" text-anchor="end" fill="#000">20</text>
<line x1="1300.9" y1="713.5" x2="1311.4" y2="713.5" stroke="#111" stroke-width="1.6"/>
<text x="1291.9" y="723.3" font-size="33.3" text-anchor="end" fill="#000">30</text>
<line x1="1300.9" y1="646.1" x2="1311.4" y2="646.1" stroke="#111" stroke-width="1.6"/>
<text x="1291.9" y="655.9" font-size="33.3" text-anchor="end" fill="#000">40</text>
<line x1="1320.4" y1="927.6" x2="1593" y2="927.6" stroke="#111" stroke-width="1.7"/>
<line x1="1321.2" y1="927.6" x2="1321.2" y2="937.5" stroke="#111" stroke-width="1.6"/>
<text x="1321.2" y="968.8" font-size="33.3" text-anchor="middle" fill="#000">0</text>
<line x1="1388.95" y1="927.6" x2="1388.95" y2="937.5" stroke="#111" stroke-width="1.6"/>
<text x="1388.95" y="968.8" font-size="33.3" text-anchor="middle" fill="#000">45</text>
<line x1="1456.7" y1="927.6" x2="1456.7" y2="937.5" stroke="#111" stroke-width="1.6"/>
<text x="1456.7" y="968.8" font-size="33.3" text-anchor="middle" fill="#000">90</text>
<line x1="1524.45" y1="927.6" x2="1524.45" y2="937.5" stroke="#111" stroke-width="1.6"/>
<text x="1524.45" y="968.8" font-size="33.3" text-anchor="middle" fill="#000">135</text>
<line x1="1592.2" y1="927.6" x2="1592.2" y2="937.5" stroke="#111" stroke-width="1.6"/>
<text x="1592.2" y="968.8" font-size="33.3" text-anchor="middle" fill="#000">180</text>
<text x="1465.2" y="836.4" font-size="34.9" text-anchor="start" fill="#e8141a">Tone-free</text>
<text x="1465.7" y="878" font-size="33.9" text-anchor="start" fill="#2a74b8">5-kHz tone</text>
<text x="1465.7" y="918.7" font-size="33.9" text-anchor="start" fill="#42ac3e">15-kHz tone</text>
<line x1="1333" y1="988.8" x2="1582.7" y2="988.8" stroke="#000" stroke-width="2.6"/>
<path d="M 1318.5 988.8 L 1335 980.8 L 1335 996.8 Z" fill="#000"/>
<path d="M 1597.2 988.8 L 1580.7 980.8 L 1580.7 996.8 Z" fill="#000"/>
<text x="1304.3" y="1021.2" font-size="29.7" text-anchor="start" fill="#000">Forward</text>
<text x="1629.5" y="1021.2" font-size="29.7" text-anchor="end" fill="#000">Backward</text>
<text x="1460.5" y="1064.2" font-size="34.2" text-anchor="middle" fill="#000">Walking direction (°)</text>
<text x="1235" y="802" font-size="34.4" text-anchor="middle" fill="#000" transform="rotate(-90 1235 802)">S.D. of turn magnitude</text>
</svg>
</body></html>
